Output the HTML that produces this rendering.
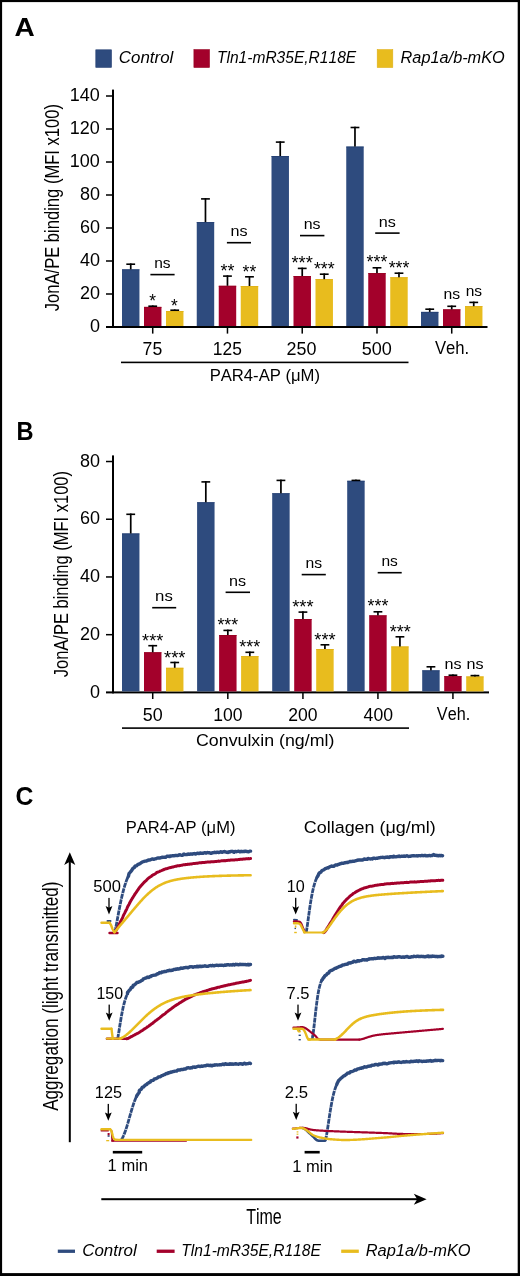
<!DOCTYPE html>
<html><head><meta charset="utf-8"><style>
html,body{margin:0;padding:0;background:#fff;}
svg{display:block;will-change:transform;}
text{font-family:"Liberation Sans",sans-serif;fill:#000;font-kerning:none;}
</style></head><body>
<svg width="520" height="1276" viewBox="0 0 520 1276">
<rect x="0.00" y="0.00" width="520.00" height="2.10" fill="#000"/>
<rect x="0.00" y="0.00" width="2.10" height="1276.00" fill="#000"/>
<rect x="517.70" y="0.00" width="2.30" height="1276.00" fill="#000"/>
<rect x="0.00" y="1273.10" width="520.00" height="2.90" fill="#000"/>
<text x="14.50" y="36.20" font-size="26.7" textLength="20.24" lengthAdjust="spacingAndGlyphs" font-weight="bold">A</text>
<text x="16.52" y="439.50" font-size="26.7" textLength="17.05" lengthAdjust="spacingAndGlyphs" font-weight="bold">B</text>
<text x="15.58" y="804.80" font-size="26.7" textLength="17.89" lengthAdjust="spacingAndGlyphs" font-weight="bold">C</text>
<rect x="95.80" y="49.80" width="15.70" height="17.60" fill="#2e4b7e" stroke="#243f72" stroke-width="0.6"/>
<rect x="193.90" y="49.60" width="15.60" height="17.90" fill="#a3012b" stroke="#960021" stroke-width="0.6"/>
<rect x="377.20" y="49.60" width="15.60" height="17.90" fill="#e8bc1e" stroke="#dfb016" stroke-width="0.6"/>
<text x="118.82" y="62.90" font-size="16.7" textLength="54.55" lengthAdjust="spacingAndGlyphs" font-style="italic">Control</text>
<text x="217.00" y="62.90" font-size="16.7" textLength="139.15" lengthAdjust="spacingAndGlyphs" font-style="italic">Tln1-mR35E,R118E</text>
<text x="400.60" y="63.10" font-size="16.7" textLength="104.15" lengthAdjust="spacingAndGlyphs" font-style="italic">Rap1a/b-mKO</text>
<rect x="112.00" y="89.60" width="2.00" height="238.40" fill="#000"/>
<rect x="106.00" y="326.00" width="381.50" height="2.00" fill="#000"/>
<text x="89.89" y="332.10" font-size="18" textLength="10.01" lengthAdjust="spacingAndGlyphs">0</text>
<rect x="106.00" y="293.25" width="6.00" height="1.50" fill="#000"/>
<text x="79.88" y="299.10" font-size="18" textLength="20.02" lengthAdjust="spacingAndGlyphs">20</text>
<rect x="106.00" y="260.25" width="6.00" height="1.50" fill="#000"/>
<text x="79.88" y="266.10" font-size="18" textLength="20.02" lengthAdjust="spacingAndGlyphs">40</text>
<rect x="106.00" y="227.25" width="6.00" height="1.50" fill="#000"/>
<text x="79.88" y="233.10" font-size="18" textLength="20.02" lengthAdjust="spacingAndGlyphs">60</text>
<rect x="106.00" y="194.25" width="6.00" height="1.50" fill="#000"/>
<text x="79.88" y="200.10" font-size="18" textLength="20.02" lengthAdjust="spacingAndGlyphs">80</text>
<rect x="106.00" y="161.25" width="6.00" height="1.50" fill="#000"/>
<text x="69.87" y="167.10" font-size="18" textLength="30.03" lengthAdjust="spacingAndGlyphs">100</text>
<rect x="106.00" y="128.25" width="6.00" height="1.50" fill="#000"/>
<text x="69.87" y="134.10" font-size="18" textLength="30.03" lengthAdjust="spacingAndGlyphs">120</text>
<rect x="106.00" y="95.25" width="6.00" height="1.50" fill="#000"/>
<text x="69.87" y="101.10" font-size="18" textLength="30.03" lengthAdjust="spacingAndGlyphs">140</text>
<rect x="122.00" y="269.40" width="17.45" height="56.60" fill="#2e4b7e"/>
<rect x="122.00" y="269.40" width="17.45" height="0.80" fill="#243f72"/>
<rect x="129.88" y="263.40" width="1.70" height="6.00" fill="#000"/>
<rect x="126.32" y="263.40" width="8.80" height="1.60" fill="#000"/>
<rect x="144.00" y="306.90" width="17.45" height="19.10" fill="#a3012b"/>
<rect x="144.00" y="306.90" width="17.45" height="0.80" fill="#960021"/>
<rect x="151.88" y="305.40" width="1.70" height="1.50" fill="#000"/>
<rect x="148.32" y="305.40" width="8.80" height="1.60" fill="#000"/>
<rect x="166.00" y="311.00" width="17.45" height="15.00" fill="#e8bc1e"/>
<rect x="166.00" y="311.00" width="17.45" height="0.80" fill="#dfb016"/>
<rect x="173.88" y="309.40" width="1.70" height="1.60" fill="#000"/>
<rect x="170.32" y="309.40" width="8.80" height="1.60" fill="#000"/>
<rect x="151.97" y="327.00" width="1.50" height="6.60" fill="#000"/>
<rect x="196.75" y="222.10" width="17.45" height="103.90" fill="#2e4b7e"/>
<rect x="196.75" y="222.10" width="17.45" height="0.80" fill="#243f72"/>
<rect x="204.62" y="198.10" width="1.70" height="24.00" fill="#000"/>
<rect x="201.07" y="198.10" width="8.80" height="1.60" fill="#000"/>
<rect x="218.75" y="285.80" width="17.45" height="40.20" fill="#a3012b"/>
<rect x="218.75" y="285.80" width="17.45" height="0.80" fill="#960021"/>
<rect x="226.62" y="275.30" width="1.70" height="10.50" fill="#000"/>
<rect x="223.07" y="275.30" width="8.80" height="1.60" fill="#000"/>
<rect x="240.75" y="286.00" width="17.45" height="40.00" fill="#e8bc1e"/>
<rect x="240.75" y="286.00" width="17.45" height="0.80" fill="#dfb016"/>
<rect x="248.62" y="276.00" width="1.70" height="10.00" fill="#000"/>
<rect x="245.07" y="276.00" width="8.80" height="1.60" fill="#000"/>
<rect x="226.72" y="327.00" width="1.50" height="6.60" fill="#000"/>
<rect x="271.50" y="156.00" width="17.45" height="170.00" fill="#2e4b7e"/>
<rect x="271.50" y="156.00" width="17.45" height="0.80" fill="#243f72"/>
<rect x="279.38" y="141.30" width="1.70" height="14.70" fill="#000"/>
<rect x="275.83" y="141.30" width="8.80" height="1.60" fill="#000"/>
<rect x="293.50" y="276.00" width="17.45" height="50.00" fill="#a3012b"/>
<rect x="293.50" y="276.00" width="17.45" height="0.80" fill="#960021"/>
<rect x="301.38" y="267.60" width="1.70" height="8.40" fill="#000"/>
<rect x="297.83" y="267.60" width="8.80" height="1.60" fill="#000"/>
<rect x="315.50" y="279.20" width="17.45" height="46.80" fill="#e8bc1e"/>
<rect x="315.50" y="279.20" width="17.45" height="0.80" fill="#dfb016"/>
<rect x="323.38" y="273.40" width="1.70" height="5.80" fill="#000"/>
<rect x="319.83" y="273.40" width="8.80" height="1.60" fill="#000"/>
<rect x="301.48" y="327.00" width="1.50" height="6.60" fill="#000"/>
<rect x="346.25" y="146.60" width="17.45" height="179.40" fill="#2e4b7e"/>
<rect x="346.25" y="146.60" width="17.45" height="0.80" fill="#243f72"/>
<rect x="354.12" y="126.70" width="1.70" height="19.90" fill="#000"/>
<rect x="350.58" y="126.70" width="8.80" height="1.60" fill="#000"/>
<rect x="368.25" y="273.10" width="17.45" height="52.90" fill="#a3012b"/>
<rect x="368.25" y="273.10" width="17.45" height="0.80" fill="#960021"/>
<rect x="376.12" y="267.00" width="1.70" height="6.10" fill="#000"/>
<rect x="372.58" y="267.00" width="8.80" height="1.60" fill="#000"/>
<rect x="390.25" y="277.30" width="17.45" height="48.70" fill="#e8bc1e"/>
<rect x="390.25" y="277.30" width="17.45" height="0.80" fill="#dfb016"/>
<rect x="398.12" y="272.40" width="1.70" height="4.90" fill="#000"/>
<rect x="394.58" y="272.40" width="8.80" height="1.60" fill="#000"/>
<rect x="376.23" y="327.00" width="1.50" height="6.60" fill="#000"/>
<rect x="421.00" y="311.90" width="17.45" height="14.10" fill="#2e4b7e"/>
<rect x="421.00" y="311.90" width="17.45" height="0.80" fill="#243f72"/>
<rect x="428.88" y="308.40" width="1.70" height="3.50" fill="#000"/>
<rect x="425.33" y="308.40" width="8.80" height="1.60" fill="#000"/>
<rect x="443.00" y="309.40" width="17.45" height="16.60" fill="#a3012b"/>
<rect x="443.00" y="309.40" width="17.45" height="0.80" fill="#960021"/>
<rect x="450.88" y="305.50" width="1.70" height="3.90" fill="#000"/>
<rect x="447.33" y="305.50" width="8.80" height="1.60" fill="#000"/>
<rect x="465.00" y="306.20" width="17.45" height="19.80" fill="#e8bc1e"/>
<rect x="465.00" y="306.20" width="17.45" height="0.80" fill="#dfb016"/>
<rect x="472.88" y="301.60" width="1.70" height="4.60" fill="#000"/>
<rect x="469.33" y="301.60" width="8.80" height="1.60" fill="#000"/>
<rect x="450.98" y="327.00" width="1.50" height="6.60" fill="#000"/>
<text x="154.17" y="268.30" font-size="15.3" textLength="16.39" lengthAdjust="spacingAndGlyphs">ns</text>
<rect x="150.40" y="273.80" width="24.20" height="1.60" fill="#000"/>
<text x="230.43" y="236.00" font-size="15.3" textLength="17.06" lengthAdjust="spacingAndGlyphs">ns</text>
<rect x="226.90" y="241.90" width="24.10" height="1.60" fill="#000"/>
<text x="303.74" y="229.20" font-size="15.3" textLength="16.83" lengthAdjust="spacingAndGlyphs">ns</text>
<rect x="300.00" y="234.80" width="24.40" height="1.60" fill="#000"/>
<text x="378.73" y="226.50" font-size="15.3" textLength="17.06" lengthAdjust="spacingAndGlyphs">ns</text>
<rect x="375.20" y="232.30" width="24.40" height="1.60" fill="#000"/>
<text x="149.32" y="307.04" font-size="17.5" textLength="6.75" lengthAdjust="spacingAndGlyphs">*</text>
<text x="171.02" y="311.64" font-size="17.5" textLength="6.75" lengthAdjust="spacingAndGlyphs">*</text>
<text x="220.51" y="276.64" font-size="17.5" textLength="13.97" lengthAdjust="spacingAndGlyphs">**</text>
<text x="242.62" y="278.04" font-size="17.5" textLength="13.66" lengthAdjust="spacingAndGlyphs">**</text>
<text x="291.40" y="269.34" font-size="17.5" textLength="21.38" lengthAdjust="spacingAndGlyphs">***</text>
<text x="313.91" y="274.94" font-size="17.5" textLength="20.76" lengthAdjust="spacingAndGlyphs">***</text>
<text x="366.61" y="268.34" font-size="17.5" textLength="20.76" lengthAdjust="spacingAndGlyphs">***</text>
<text x="388.71" y="274.04" font-size="17.5" textLength="20.76" lengthAdjust="spacingAndGlyphs">***</text>
<text x="443.56" y="299.40" font-size="15.3" textLength="16.61" lengthAdjust="spacingAndGlyphs">ns</text>
<text x="465.67" y="296.20" font-size="15.3" textLength="16.39" lengthAdjust="spacingAndGlyphs">ns</text>
<text x="142.59" y="354.60" font-size="18" textLength="19.65" lengthAdjust="spacingAndGlyphs">75</text>
<text x="212.87" y="354.70" font-size="18" textLength="29.06" lengthAdjust="spacingAndGlyphs">125</text>
<text x="286.50" y="354.60" font-size="18" textLength="29.90" lengthAdjust="spacingAndGlyphs">250</text>
<text x="361.78" y="354.60" font-size="18" textLength="30.13" lengthAdjust="spacingAndGlyphs">500</text>
<text x="434.93" y="354.30" font-size="18" textLength="34.30" lengthAdjust="spacingAndGlyphs">Veh.</text>
<text transform="translate(58.70,311.00) rotate(-90)" x="-0.26" y="0" font-size="20.6" textLength="207.29" lengthAdjust="spacingAndGlyphs">JonA/PE binding (MFI x100)</text>
<rect x="121.00" y="361.60" width="287.50" height="1.60" fill="#000"/>
<text x="209.63" y="380.70" font-size="16.8" textLength="110.40" lengthAdjust="spacingAndGlyphs">PAR4-AP (μM)</text>
<rect x="112.00" y="455.40" width="2.00" height="238.00" fill="#000"/>
<rect x="106.00" y="691.40" width="383.00" height="2.00" fill="#000"/>
<text x="89.89" y="697.50" font-size="18" textLength="10.01" lengthAdjust="spacingAndGlyphs">0</text>
<rect x="106.00" y="633.93" width="6.00" height="1.50" fill="#000"/>
<text x="79.88" y="639.78" font-size="18" textLength="20.02" lengthAdjust="spacingAndGlyphs">20</text>
<rect x="106.00" y="576.21" width="6.00" height="1.50" fill="#000"/>
<text x="79.88" y="582.06" font-size="18" textLength="20.02" lengthAdjust="spacingAndGlyphs">40</text>
<rect x="106.00" y="518.49" width="6.00" height="1.50" fill="#000"/>
<text x="79.88" y="524.34" font-size="18" textLength="20.02" lengthAdjust="spacingAndGlyphs">60</text>
<rect x="106.00" y="460.77" width="6.00" height="1.50" fill="#000"/>
<text x="79.88" y="466.62" font-size="18" textLength="20.02" lengthAdjust="spacingAndGlyphs">80</text>
<rect x="122.00" y="533.50" width="17.45" height="157.90" fill="#2e4b7e"/>
<rect x="122.00" y="533.50" width="17.45" height="0.80" fill="#243f72"/>
<rect x="129.88" y="513.50" width="1.70" height="20.00" fill="#000"/>
<rect x="126.32" y="513.50" width="8.80" height="1.60" fill="#000"/>
<rect x="144.00" y="652.30" width="17.45" height="39.10" fill="#a3012b"/>
<rect x="144.00" y="652.30" width="17.45" height="0.80" fill="#960021"/>
<rect x="151.88" y="644.90" width="1.70" height="7.40" fill="#000"/>
<rect x="148.32" y="644.90" width="8.80" height="1.60" fill="#000"/>
<rect x="166.00" y="667.80" width="17.45" height="23.60" fill="#e8bc1e"/>
<rect x="166.00" y="667.80" width="17.45" height="0.80" fill="#dfb016"/>
<rect x="173.88" y="661.70" width="1.70" height="6.10" fill="#000"/>
<rect x="170.32" y="661.70" width="8.80" height="1.60" fill="#000"/>
<rect x="151.97" y="692.40" width="1.50" height="6.60" fill="#000"/>
<rect x="197.10" y="502.30" width="17.45" height="189.10" fill="#2e4b7e"/>
<rect x="197.10" y="502.30" width="17.45" height="0.80" fill="#243f72"/>
<rect x="204.97" y="481.10" width="1.70" height="21.20" fill="#000"/>
<rect x="201.42" y="481.10" width="8.80" height="1.60" fill="#000"/>
<rect x="219.10" y="635.00" width="17.45" height="56.40" fill="#a3012b"/>
<rect x="219.10" y="635.00" width="17.45" height="0.80" fill="#960021"/>
<rect x="226.97" y="629.60" width="1.70" height="5.40" fill="#000"/>
<rect x="223.42" y="629.60" width="8.80" height="1.60" fill="#000"/>
<rect x="241.10" y="656.20" width="17.45" height="35.20" fill="#e8bc1e"/>
<rect x="241.10" y="656.20" width="17.45" height="0.80" fill="#dfb016"/>
<rect x="248.97" y="651.50" width="1.70" height="4.70" fill="#000"/>
<rect x="245.42" y="651.50" width="8.80" height="1.60" fill="#000"/>
<rect x="227.07" y="692.40" width="1.50" height="6.60" fill="#000"/>
<rect x="272.20" y="493.30" width="17.45" height="198.10" fill="#2e4b7e"/>
<rect x="272.20" y="493.30" width="17.45" height="0.80" fill="#243f72"/>
<rect x="280.07" y="479.60" width="1.70" height="13.70" fill="#000"/>
<rect x="276.53" y="479.60" width="8.80" height="1.60" fill="#000"/>
<rect x="294.20" y="619.00" width="17.45" height="72.40" fill="#a3012b"/>
<rect x="294.20" y="619.00" width="17.45" height="0.80" fill="#960021"/>
<rect x="302.07" y="611.30" width="1.70" height="7.70" fill="#000"/>
<rect x="298.53" y="611.30" width="8.80" height="1.60" fill="#000"/>
<rect x="316.20" y="649.00" width="17.45" height="42.40" fill="#e8bc1e"/>
<rect x="316.20" y="649.00" width="17.45" height="0.80" fill="#dfb016"/>
<rect x="324.07" y="644.00" width="1.70" height="5.00" fill="#000"/>
<rect x="320.53" y="644.00" width="8.80" height="1.60" fill="#000"/>
<rect x="302.18" y="692.40" width="1.50" height="6.60" fill="#000"/>
<rect x="347.20" y="480.80" width="17.45" height="210.60" fill="#2e4b7e"/>
<rect x="347.20" y="480.80" width="17.45" height="0.80" fill="#243f72"/>
<rect x="355.07" y="479.60" width="1.70" height="1.20" fill="#000"/>
<rect x="351.53" y="479.60" width="8.80" height="1.60" fill="#000"/>
<rect x="369.20" y="615.40" width="17.45" height="76.00" fill="#a3012b"/>
<rect x="369.20" y="615.40" width="17.45" height="0.80" fill="#960021"/>
<rect x="377.07" y="611.00" width="1.70" height="4.40" fill="#000"/>
<rect x="373.53" y="611.00" width="8.80" height="1.60" fill="#000"/>
<rect x="391.20" y="646.50" width="17.45" height="44.90" fill="#e8bc1e"/>
<rect x="391.20" y="646.50" width="17.45" height="0.80" fill="#dfb016"/>
<rect x="399.07" y="636.00" width="1.70" height="10.50" fill="#000"/>
<rect x="395.53" y="636.00" width="8.80" height="1.60" fill="#000"/>
<rect x="377.18" y="692.40" width="1.50" height="6.60" fill="#000"/>
<rect x="422.20" y="670.40" width="17.45" height="21.00" fill="#2e4b7e"/>
<rect x="422.20" y="670.40" width="17.45" height="0.80" fill="#243f72"/>
<rect x="430.07" y="666.00" width="1.70" height="4.40" fill="#000"/>
<rect x="426.53" y="666.00" width="8.80" height="1.60" fill="#000"/>
<rect x="444.20" y="676.20" width="17.45" height="15.20" fill="#a3012b"/>
<rect x="444.20" y="676.20" width="17.45" height="0.80" fill="#960021"/>
<rect x="452.07" y="674.40" width="1.70" height="1.80" fill="#000"/>
<rect x="448.53" y="674.40" width="8.80" height="1.60" fill="#000"/>
<rect x="466.20" y="676.50" width="17.45" height="14.90" fill="#e8bc1e"/>
<rect x="466.20" y="676.50" width="17.45" height="0.80" fill="#dfb016"/>
<rect x="474.07" y="674.80" width="1.70" height="1.70" fill="#000"/>
<rect x="470.53" y="674.80" width="8.80" height="1.60" fill="#000"/>
<rect x="452.18" y="692.40" width="1.50" height="6.60" fill="#000"/>
<text x="155.09" y="600.90" font-size="15.3" textLength="17.72" lengthAdjust="spacingAndGlyphs">ns</text>
<rect x="152.20" y="606.90" width="24.00" height="1.60" fill="#000"/>
<text x="229.13" y="586.00" font-size="15.3" textLength="17.06" lengthAdjust="spacingAndGlyphs">ns</text>
<rect x="225.60" y="591.50" width="24.40" height="1.60" fill="#000"/>
<text x="305.46" y="567.90" font-size="15.3" textLength="16.61" lengthAdjust="spacingAndGlyphs">ns</text>
<rect x="301.70" y="573.80" width="24.10" height="1.60" fill="#000"/>
<text x="381.47" y="566.00" font-size="15.3" textLength="16.39" lengthAdjust="spacingAndGlyphs">ns</text>
<rect x="377.70" y="571.90" width="24.00" height="1.60" fill="#000"/>
<text x="142.11" y="646.54" font-size="17.5" textLength="21.18" lengthAdjust="spacingAndGlyphs">***</text>
<text x="164.00" y="663.64" font-size="17.5" textLength="21.48" lengthAdjust="spacingAndGlyphs">***</text>
<text x="217.41" y="631.24" font-size="17.5" textLength="20.76" lengthAdjust="spacingAndGlyphs">***</text>
<text x="239.31" y="653.34" font-size="17.5" textLength="20.97" lengthAdjust="spacingAndGlyphs">***</text>
<text x="292.20" y="612.84" font-size="17.5" textLength="21.38" lengthAdjust="spacingAndGlyphs">***</text>
<text x="314.30" y="645.74" font-size="17.5" textLength="21.38" lengthAdjust="spacingAndGlyphs">***</text>
<text x="367.61" y="612.44" font-size="17.5" textLength="20.97" lengthAdjust="spacingAndGlyphs">***</text>
<text x="389.71" y="637.64" font-size="17.5" textLength="20.97" lengthAdjust="spacingAndGlyphs">***</text>
<text x="444.53" y="668.50" font-size="15.3" textLength="17.06" lengthAdjust="spacingAndGlyphs">ns</text>
<text x="466.63" y="668.50" font-size="15.3" textLength="17.06" lengthAdjust="spacingAndGlyphs">ns</text>
<text x="142.78" y="720.50" font-size="18" textLength="19.92" lengthAdjust="spacingAndGlyphs">50</text>
<text x="213.27" y="720.50" font-size="18" textLength="29.22" lengthAdjust="spacingAndGlyphs">100</text>
<text x="288.32" y="720.50" font-size="18" textLength="29.27" lengthAdjust="spacingAndGlyphs">200</text>
<text x="363.60" y="720.50" font-size="18" textLength="29.39" lengthAdjust="spacingAndGlyphs">400</text>
<text x="436.83" y="720.40" font-size="18" textLength="33.35" lengthAdjust="spacingAndGlyphs">Veh.</text>
<text transform="translate(68.00,677.00) rotate(-90)" x="-0.26" y="0" font-size="20.6" textLength="206.28" lengthAdjust="spacingAndGlyphs">JonA/PE binding (MFI x100)</text>
<rect x="122.00" y="727.30" width="287.00" height="1.60" fill="#000"/>
<text x="196.00" y="746.00" font-size="16.8" textLength="138.41" lengthAdjust="spacingAndGlyphs">Convulxin (ng/ml)</text>
<text x="125.84" y="832.90" font-size="17.2" textLength="109.58" lengthAdjust="spacingAndGlyphs">PAR4-AP (μM)</text>
<text x="303.79" y="832.90" font-size="17.2" textLength="131.92" lengthAdjust="spacingAndGlyphs">Collagen (μg/ml)</text>
<rect x="68.80" y="860.00" width="2.00" height="282.20" fill="#000"/>
<path d="M69.8,852.3 L75.3,865 L69.8,861.8 L64.2,865 Z" fill="#000"/>
<text transform="translate(58.10,1110.80) rotate(-90)" x="-0.03" y="0" font-size="21.7" textLength="229.29" lengthAdjust="spacingAndGlyphs">Aggregation (light transmitted)</text>
<rect x="101.30" y="1198.20" width="318.70" height="2.00" fill="#000"/>
<path d="M426.6,1199.2 L413.8,1204.7 L417.2,1199.2 L413.8,1193.7 Z" fill="#000"/>
<text x="246.14" y="1224.20" font-size="21.8" textLength="35.67" lengthAdjust="spacingAndGlyphs">Time</text>
<rect x="57.80" y="1249.60" width="17.20" height="3.30" fill="#2e4b7e"/>
<rect x="156.70" y="1249.60" width="17.90" height="3.30" fill="#a3012b"/>
<rect x="341.20" y="1249.60" width="17.60" height="3.30" fill="#e8bc1e"/>
<text x="82.16" y="1256.20" font-size="16.7" textLength="54.65" lengthAdjust="spacingAndGlyphs" font-style="italic">Control</text>
<text x="181.30" y="1256.20" font-size="16.7" textLength="139.56" lengthAdjust="spacingAndGlyphs" font-style="italic">Tln1-mR35E,R118E</text>
<text x="365.69" y="1256.20" font-size="16.7" textLength="104.96" lengthAdjust="spacingAndGlyphs" font-style="italic">Rap1a/b-mKO</text>
<text x="93.34" y="891.50" font-size="17.2" textLength="27.61" lengthAdjust="spacingAndGlyphs">500</text>
<rect x="108.35" y="897.90" width="1.30" height="10.50" fill="#000"/>
<path d="M109.00,914.40 L105.60,906.10 L109.00,907.80 L112.40,906.10 Z" fill="#000"/>
<text x="96.38" y="998.80" font-size="17.2" textLength="26.64" lengthAdjust="spacingAndGlyphs">150</text>
<rect x="108.55" y="1004.60" width="1.30" height="10.20" fill="#000"/>
<path d="M109.20,1020.80 L105.80,1012.50 L109.20,1014.20 L112.60,1012.50 Z" fill="#000"/>
<text x="94.86" y="1098.00" font-size="17.2" textLength="27.12" lengthAdjust="spacingAndGlyphs">125</text>
<rect x="107.65" y="1103.90" width="1.30" height="10.80" fill="#000"/>
<path d="M108.30,1120.70 L104.90,1112.40 L108.30,1114.10 L111.70,1112.40 Z" fill="#000"/>
<text x="286.87" y="891.70" font-size="17.2" textLength="17.96" lengthAdjust="spacingAndGlyphs">10</text>
<rect x="295.05" y="897.80" width="1.30" height="10.70" fill="#000"/>
<path d="M295.70,914.50 L292.30,906.20 L295.70,907.90 L299.10,906.20 Z" fill="#000"/>
<text x="286.55" y="998.90" font-size="17.2" textLength="22.94" lengthAdjust="spacingAndGlyphs">7.5</text>
<rect x="297.35" y="1004.60" width="1.30" height="10.20" fill="#000"/>
<path d="M298.00,1020.80 L294.60,1012.50 L298.00,1014.20 L301.40,1012.50 Z" fill="#000"/>
<text x="284.86" y="1097.70" font-size="17.2" textLength="23.24" lengthAdjust="spacingAndGlyphs">2.5</text>
<rect x="295.55" y="1103.80" width="1.30" height="10.20" fill="#000"/>
<path d="M296.20,1120.00 L292.80,1111.70 L296.20,1113.40 L299.60,1111.70 Z" fill="#000"/>
<rect x="112.80" y="1150.90" width="29.40" height="2.60" fill="#000"/>
<rect x="304.60" y="1150.90" width="15.10" height="2.60" fill="#000"/>
<text x="107.64" y="1171.40" font-size="16.4" textLength="40.43" lengthAdjust="spacingAndGlyphs">1 min</text>
<text x="292.24" y="1171.50" font-size="16.4" textLength="40.33" lengthAdjust="spacingAndGlyphs">1 min</text>
<path d="M107.50,921.00 L110.50,921.00" fill="none" stroke="#2e4b7e" stroke-width="2.0" stroke-linejoin="round" stroke-linecap="round"/>
<path d="M114.60,932.20 L115.10,930.63 L115.60,928.46 L116.10,926.01 L116.60,923.42 L117.10,920.74 L117.60,918.03 L118.10,915.32 L118.60,912.63 L119.10,909.98 L119.60,907.39 L120.10,904.87 L120.60,902.43 L121.10,900.08 L121.60,897.81 L122.10,895.64 L122.60,893.57 L123.10,891.59 L123.60,889.70 L124.10,887.91 L124.60,886.22 L125.10,884.61 L125.60,883.09 L126.10,881.65 L126.60,880.30 L127.10,879.03 L127.60,877.83 L128.10,876.70" fill="none" stroke="#2e4b7e" stroke-width="2.8" stroke-dasharray="5 0.7" stroke-linejoin="round"/>
<path d="M128.10,876.70 L128.66,875.67 L128.75,874.47 L129.09,873.43 L129.84,872.69 L130.50,871.96 L131.01,871.19 L131.64,870.56 L132.11,869.86 L132.40,869.05 L132.85,868.41 L133.52,867.99 L134.20,867.65 L134.63,867.09 L134.89,866.36 L135.42,865.94 L136.22,865.90 L136.83,865.68 L137.15,865.08 L137.58,864.64 L138.16,864.45 L138.66,864.14 L139.23,863.99 L139.81,863.87 L140.23,863.48 L140.67,863.11 L141.14,862.82 L141.57,862.45 L142.04,862.16 L142.54,861.96 L143.05,861.77 L143.55,861.59 L144.06,861.42 L144.57,861.28 L145.10,861.18 L145.62,861.08 L146.16,861.08 L146.64,860.88 L147.09,860.54 L147.62,860.52 L148.09,860.26 L148.53,859.89 L149.06,859.89 L149.63,860.02 L150.13,859.90 L150.58,859.58 L151.09,859.50 L151.57,859.31 L152.00,858.88 L152.53,858.87 L153.12,859.16 L153.66,859.29 L154.17,859.22 L154.65,859.03 L155.13,858.82 L155.64,858.76 L156.13,858.64 L156.59,858.32 L157.09,858.21 L157.58,858.10 L158.07,857.95 L158.60,858.03 L159.09,857.88 L159.62,857.95 L160.16,858.08 L160.60,857.65 L161.09,857.54 L161.62,857.63 L162.08,857.30 L162.58,857.18 L163.12,857.34 L163.63,857.36 L164.13,857.28 L164.64,857.27 L165.16,857.33 L165.66,857.24 L166.12,856.92 L166.58,856.55 L167.04,856.23 L167.55,856.17 L168.07,856.25 L168.57,856.21 L169.12,856.52 L169.65,856.62 L170.09,856.11 L170.56,855.85 L171.09,855.99 L171.60,856.04 L172.09,855.84 L172.58,855.71 L173.08,855.67 L173.60,855.78 L174.12,855.82 L174.59,855.57 L175.09,855.51 L175.62,855.65 L176.11,855.52 L176.59,855.34 L177.12,855.47 L177.63,855.56 L178.13,855.44 L178.59,855.10 L179.06,854.73 L179.58,854.85 L180.11,855.10 L180.61,855.03 L181.12,855.07 L181.66,855.42 L182.16,855.41 L182.64,855.15 L183.12,854.88 L183.56,854.24 L184.05,854.08 L184.59,854.49 L185.11,854.59 L185.61,854.59 L186.11,854.56 L186.61,854.46 L187.11,854.46 L187.60,854.22 L188.08,853.96 L188.59,854.09 L189.12,854.38 L189.62,854.37 L190.10,854.01 L190.59,853.86 L191.09,853.88 L191.61,854.03 L192.13,854.25 L192.62,854.05 L193.10,853.77 L193.60,853.83 L194.11,853.80 L194.59,853.55 L195.10,853.66 L195.63,853.99 L196.12,853.91 L196.60,853.58 L197.09,853.40 L197.58,853.24 L198.08,853.21 L198.60,853.48 L199.11,853.55 L199.60,853.27 L200.08,852.99 L200.59,853.05 L201.10,853.30 L201.60,853.26 L202.10,853.16 L202.61,853.29 L203.11,853.29 L203.59,852.99 L204.08,852.79 L204.58,852.68 L205.09,852.76 L205.61,853.06 L206.11,853.15 L206.60,852.91 L207.08,852.58 L207.58,852.52 L208.09,852.67 L208.60,852.72 L209.10,852.68 L209.60,852.68 L210.11,852.96 L210.63,853.27 L211.13,853.32 L211.62,853.13 L212.11,852.88 L212.61,852.75 L213.11,852.68 L213.61,852.65 L214.10,852.49 L214.59,852.30 L215.10,852.37 L215.60,852.55 L216.11,852.57 L216.60,852.36 L217.09,852.19 L217.59,852.13 L218.09,852.21 L218.61,852.46 L219.11,852.44 L219.60,852.29 L220.09,852.09 L220.58,851.77 L221.08,851.78 L221.60,852.20 L222.11,852.36 L222.59,852.01 L223.09,851.88 L223.59,851.87 L224.08,851.59 L224.58,851.53 L225.09,851.80 L225.60,851.95 L226.10,852.10 L226.61,852.26 L227.11,852.15 L227.61,852.19 L228.12,852.48 L228.61,852.28 L229.09,851.74 L229.60,851.79 L230.10,851.95 L230.59,851.62 L231.09,851.40 L231.58,851.35 L232.08,851.31 L232.59,851.46 L233.10,851.84 L233.61,852.20 L234.11,852.20 L234.60,851.71 L235.09,851.34 L235.59,851.48 L236.10,851.67 L236.60,851.72 L237.10,851.51 L237.59,851.34 L238.09,851.35 L238.59,851.20 L239.09,851.31 L239.60,851.64 L240.11,851.86 L240.60,851.70 L241.09,851.29 L241.60,851.46 L242.10,851.69 L242.60,851.61 L243.10,851.51 L243.60,851.42 L244.10,851.58 L244.60,851.57 L245.10,851.27 L245.59,851.22 L246.10,851.29 L246.60,851.40 L247.10,851.60 L247.61,851.70 L248.11,851.81 L248.61,851.78 L249.10,851.50 L249.60,851.26 L250.09,851.08 L250.59,851.11" fill="none" stroke="#2e4b7e" stroke-width="3.4" stroke-linejoin="round" stroke-linecap="round"/>
<path d="M117.50,1038.80 L118.00,1036.75 L118.50,1033.97 L119.00,1030.92 L119.50,1027.76 L120.00,1024.59 L120.50,1021.49 L121.00,1018.50 L121.50,1015.64 L122.00,1012.95 L122.50,1010.42 L123.00,1008.06 L123.50,1005.88 L124.00,1003.86 L124.50,1002.01 L125.00,1000.30 L125.50,998.75 L126.00,997.32 L126.50,996.02 L127.00,994.83 L127.50,993.74" fill="none" stroke="#2e4b7e" stroke-width="2.8" stroke-dasharray="5 0.7" stroke-linejoin="round"/>
<path d="M127.50,993.74 L127.52,992.50 L128.25,991.69 L128.86,990.91 L129.39,990.15 L130.11,989.59 L130.71,989.01 L130.86,988.12 L131.30,987.49 L132.23,987.35 L132.84,986.97 L132.92,986.07 L133.20,985.35 L133.82,985.06 L134.47,984.83 L135.00,984.46 L135.40,983.95 L135.89,983.57 L136.36,983.17 L136.72,982.61 L137.26,982.34 L137.99,982.37 L138.54,982.14 L139.03,981.81 L139.67,981.76 L140.20,981.52 L140.62,981.12 L141.10,980.80 L141.60,980.53 L142.13,980.32 L142.62,980.04 L142.95,979.46 L143.31,978.92 L143.85,978.76 L144.37,978.53 L144.88,978.33 L145.42,978.17 L145.91,977.90 L146.47,977.80 L146.93,977.49 L147.34,977.06 L147.97,977.15 L148.71,977.49 L149.19,977.25 L149.57,976.76 L150.14,976.71 L150.64,976.53 L150.99,975.95 L151.48,975.73 L152.07,975.78 L152.55,975.53 L153.04,975.34 L153.62,975.36 L154.12,975.19 L154.65,975.11 L155.20,975.09 L155.70,974.92 L156.19,974.76 L156.60,974.31 L157.00,973.86 L157.53,973.78 L158.08,973.77 L158.58,973.62 L159.00,973.21 L159.39,972.71 L159.89,972.54 L160.47,972.69 L161.07,972.90 L161.53,972.62 L161.90,972.01 L162.42,971.91 L162.97,971.97 L163.49,971.91 L163.98,971.77 L164.43,971.42 L164.94,971.33 L165.53,971.60 L166.05,971.54 L166.49,971.19 L166.97,970.96 L167.43,970.69 L167.93,970.58 L168.48,970.68 L168.96,970.46 L169.42,970.18 L169.98,970.36 L170.56,970.64 L171.06,970.50 L171.52,970.22 L172.02,970.15 L172.55,970.18 L173.02,969.93 L173.46,969.52 L173.95,969.39 L174.47,969.41 L174.99,969.43 L175.46,969.17 L175.95,968.98 L176.51,969.25 L177.00,969.10 L177.46,968.81 L178.01,969.01 L178.53,969.05 L179.02,968.89 L179.51,968.77 L180.00,968.61 L180.46,968.29 L180.93,968.02 L181.46,968.12 L181.99,968.30 L182.51,968.34 L183.01,968.31 L183.47,967.93 L183.95,967.65 L184.48,967.82 L184.97,967.68 L185.45,967.46 L185.95,967.44 L186.46,967.44 L186.98,967.50 L187.50,967.64 L188.03,967.81 L188.51,967.56 L188.97,967.21 L189.45,966.95 L189.93,966.71 L190.45,966.78 L190.97,966.92 L191.46,966.77 L191.95,966.61 L192.49,966.95 L193.02,967.21 L193.50,966.98 L194.00,966.88 L194.50,966.84 L194.98,966.63 L195.49,966.68 L196.01,966.88 L196.50,966.67 L196.96,966.21 L197.48,966.32 L198.03,966.86 L198.51,966.66 L198.98,966.19 L199.49,966.35 L200.01,966.54 L200.49,966.24 L200.98,966.11 L201.52,966.50 L202.02,966.51 L202.51,966.28 L203.01,966.25 L203.50,966.11 L204.00,966.08 L204.50,966.00 L204.99,965.81 L205.50,966.03 L206.02,966.21 L206.52,966.21 L207.03,966.31 L207.53,966.41 L208.03,966.37 L208.52,966.09 L209.00,965.85 L209.50,965.79 L209.99,965.59 L210.49,965.49 L211.00,965.69 L211.51,965.87 L212.00,965.67 L212.49,965.33 L213.00,965.53 L213.51,965.74 L214.01,965.75 L214.51,965.70 L215.00,965.46 L215.50,965.37 L216.00,965.37 L216.49,965.25 L216.99,965.15 L217.50,965.28 L218.01,965.45 L218.51,965.43 L219.00,965.28 L219.50,965.30 L220.01,965.41 L220.50,965.24 L221.00,965.19 L221.50,965.28 L222.00,965.25 L222.51,965.29 L223.01,965.41 L223.52,965.52 L224.01,965.40 L224.50,965.12 L225.00,964.97 L225.50,965.14 L226.01,965.30 L226.50,965.08 L226.99,964.77 L227.49,964.73 L228.00,964.84 L228.50,964.76 L229.00,964.82 L229.51,965.12 L230.01,965.06 L230.50,964.83 L231.00,964.76 L231.50,964.97 L232.01,965.10 L232.50,964.75 L232.99,964.48 L233.49,964.46 L234.00,964.70 L234.51,964.94 L235.00,964.71 L235.49,964.38 L235.99,964.26 L236.49,964.46 L237.00,964.64 L237.50,964.55 L238.00,964.61 L238.50,964.82 L239.00,964.81 L239.50,964.58 L239.99,964.29 L240.50,964.39 L241.00,964.62 L241.50,964.50 L242.00,964.53 L242.50,964.51 L243.00,964.47 L243.50,964.57 L244.00,964.60 L244.50,964.60 L245.00,964.48 L245.50,964.63 L246.00,964.71 L246.50,964.63 L247.01,964.89 L247.50,964.63 L248.00,964.24 L248.50,964.70 L249.01,964.94 L249.50,964.56 L250.00,964.40 L250.50,964.47" fill="none" stroke="#2e4b7e" stroke-width="3.4" stroke-linejoin="round" stroke-linecap="round"/>
<rect x="107.60" y="1135.20" width="2.00" height="1.60" fill="#2e4b7e"/>
<path d="M121.50,1139.60 L122.00,1138.74 L122.50,1137.82 L123.00,1136.83 L123.50,1135.76 L124.00,1134.61 L124.50,1133.38 L125.00,1132.07 L125.50,1130.67 L126.00,1129.20 L126.50,1127.66 L127.00,1126.05 L127.50,1124.39 L128.00,1122.68 L128.50,1120.94 L129.00,1119.18 L129.50,1117.41 L130.00,1115.63 L130.50,1113.87 L131.00,1112.12 L131.50,1110.41 L132.00,1108.74 L132.50,1107.12 L133.00,1105.55 L133.50,1104.05 L134.00,1102.61 L134.50,1101.24 L135.00,1099.94 L135.50,1098.71 L136.00,1097.56 L136.50,1096.47" fill="none" stroke="#2e4b7e" stroke-width="2.8" stroke-dasharray="5 0.7" stroke-linejoin="round"/>
<path d="M136.50,1096.47 L136.95,1095.43 L137.64,1094.58 L138.09,1093.66 L138.84,1092.99 L139.31,1092.20 L139.22,1091.07 L139.50,1090.21 L140.30,1089.79 L141.08,1089.41 L141.54,1088.81 L141.82,1088.06 L142.23,1087.45 L142.94,1087.18 L143.62,1086.90 L143.95,1086.27 L144.43,1085.81 L145.07,1085.57 L145.47,1085.03 L145.95,1084.62 L146.64,1084.49 L147.09,1084.05 L147.42,1083.46 L147.98,1083.18 L148.57,1082.97 L149.03,1082.58 L149.56,1082.30 L150.17,1082.14 L150.56,1081.65 L150.84,1080.98 L151.34,1080.67 L151.95,1080.55 L152.54,1080.40 L153.15,1080.29 L153.64,1079.99 L153.97,1079.41 L154.39,1078.98 L154.95,1078.81 L155.54,1078.73 L156.16,1078.68 L156.62,1078.36 L157.08,1078.01 L157.57,1077.76 L157.98,1077.33 L158.44,1077.01 L159.01,1076.90 L159.61,1076.89 L160.18,1076.81 L160.66,1076.55 L161.09,1076.18 L161.54,1075.84 L162.02,1075.58 L162.55,1075.44 L163.06,1075.27 L163.50,1074.92 L163.99,1074.68 L164.55,1074.64 L165.05,1074.44 L165.48,1074.06 L165.94,1073.77 L166.40,1073.47 L166.93,1073.36 L167.55,1073.54 L168.02,1073.29 L168.39,1072.73 L168.91,1072.62 L169.49,1072.68 L169.95,1072.40 L170.46,1072.26 L171.04,1072.33 L171.50,1072.08 L171.99,1071.87 L172.51,1071.79 L172.98,1071.55 L173.49,1071.44 L174.03,1071.45 L174.53,1071.29 L175.01,1071.10 L175.55,1071.10 L176.10,1071.14 L176.61,1071.06 L177.05,1070.70 L177.47,1070.27 L177.94,1070.01 L178.44,1069.88 L178.98,1069.91 L179.52,1069.99 L180.04,1069.97 L180.51,1069.70 L180.99,1069.51 L181.52,1069.53 L182.01,1069.39 L182.53,1069.39 L183.09,1069.57 L183.57,1069.35 L184.00,1068.89 L184.51,1068.86 L185.07,1069.07 L185.57,1069.01 L186.06,1068.82 L186.50,1068.45 L186.93,1067.98 L187.43,1067.84 L187.93,1067.79 L188.45,1067.77 L188.98,1067.89 L189.53,1068.07 L190.06,1068.17 L190.55,1068.03 L191.01,1067.75 L191.51,1067.65 L192.04,1067.74 L192.50,1067.42 L192.95,1067.00 L193.48,1067.12 L194.00,1067.18 L194.48,1067.00 L195.01,1067.14 L195.54,1067.27 L196.01,1067.00 L196.49,1066.80 L196.98,1066.66 L197.47,1066.46 L197.96,1066.35 L198.46,1066.30 L198.97,1066.27 L199.49,1066.36 L200.01,1066.49 L200.52,1066.49 L201.00,1066.31 L201.48,1066.05 L201.99,1066.09 L202.52,1066.29 L203.01,1066.19 L203.49,1065.94 L203.99,1065.88 L204.49,1065.88 L204.99,1065.75 L205.49,1065.73 L205.99,1065.70 L206.46,1065.34 L206.95,1065.12 L207.47,1065.36 L207.98,1065.35 L208.47,1065.23 L209.00,1065.53 L209.52,1065.65 L210.00,1065.44 L210.49,1065.24 L211.01,1065.40 L211.54,1065.82 L212.05,1065.86 L212.52,1065.48 L213.00,1065.16 L213.50,1065.21 L214.01,1065.27 L214.49,1064.95 L214.98,1064.74 L215.50,1064.95 L216.00,1065.00 L216.49,1064.82 L217.00,1064.88 L217.51,1064.97 L218.00,1064.86 L218.50,1064.85 L219.01,1064.97 L219.50,1064.78 L219.99,1064.61 L220.51,1064.87 L221.01,1064.91 L221.50,1064.67 L221.99,1064.49 L222.48,1064.18 L222.97,1063.94 L223.49,1064.24 L224.01,1064.61 L224.50,1064.54 L224.98,1064.08 L225.47,1063.71 L225.97,1063.85 L226.50,1064.27 L227.00,1064.36 L227.49,1064.08 L227.99,1064.15 L228.51,1064.41 L229.01,1064.38 L229.49,1063.95 L229.98,1063.65 L230.49,1064.00 L231.00,1064.26 L231.50,1064.13 L231.99,1063.90 L232.50,1064.02 L233.01,1064.29 L233.50,1064.16 L234.00,1063.93 L234.50,1063.98 L235.00,1063.99 L235.49,1063.70 L235.99,1063.72 L236.50,1063.96 L237.00,1064.04 L237.51,1064.11 L238.01,1064.20 L238.51,1064.18 L239.00,1063.94 L239.50,1063.82 L240.00,1063.69 L240.49,1063.62 L241.00,1063.81 L241.50,1063.86 L242.01,1064.05 L242.51,1064.27 L243.01,1064.12 L243.50,1063.81 L243.99,1063.40 L244.49,1063.27 L245.00,1063.57 L245.50,1063.87 L246.01,1063.97 L246.50,1063.84 L247.00,1063.71 L247.50,1063.66 L248.00,1063.64 L248.50,1063.57 L248.99,1063.34 L249.49,1063.12 L249.99,1063.23 L250.50,1063.47" fill="none" stroke="#2e4b7e" stroke-width="3.4" stroke-linejoin="round" stroke-linecap="round"/>
<path d="M294.00,919.80 L297.00,920.00" fill="none" stroke="#2e4b7e" stroke-width="2.0" stroke-linejoin="round" stroke-linecap="round"/>
<rect x="294.50" y="927.80" width="1.50" height="1.30" fill="#2e4b7e"/>
<path d="M306.10,932.50 L306.60,930.27 L307.10,927.12 L307.60,923.61 L308.10,919.94 L308.60,916.23 L309.10,912.58 L309.60,909.03 L310.10,905.64 L310.60,902.41 L311.10,899.38 L311.60,896.54 L312.10,893.91 L312.60,891.47 L313.10,889.23 L313.60,887.17 L314.10,885.30 L314.60,883.58 L315.10,882.03 L315.60,880.62 L316.10,879.34 L316.60,878.18 L317.10,877.13" fill="none" stroke="#2e4b7e" stroke-width="2.8" stroke-dasharray="5 0.7" stroke-linejoin="round"/>
<path d="M317.10,877.13 L317.71,876.25 L318.19,875.38 L318.57,874.54 L318.89,873.70 L319.24,872.92 L319.99,872.54 L320.76,872.27 L321.15,871.69 L321.55,871.13 L321.98,870.64 L322.48,870.25 L323.09,870.06 L323.68,869.87 L324.16,869.55 L324.57,869.10 L325.05,868.79 L325.55,868.53 L326.08,868.36 L326.63,868.25 L327.06,867.85 L327.61,867.78 L328.26,867.94 L328.68,867.56 L329.10,867.16 L329.59,866.95 L330.06,866.69 L330.55,866.49 L331.02,866.23 L331.52,866.04 L332.09,866.11 L332.68,866.24 L333.23,866.25 L333.77,866.24 L334.23,865.95 L334.62,865.45 L335.10,865.22 L335.57,864.99 L336.09,864.89 L336.69,865.11 L337.21,865.07 L337.65,864.73 L338.13,864.50 L338.63,864.39 L339.13,864.26 L339.60,864.01 L340.07,863.78 L340.59,863.71 L341.05,863.45 L341.53,863.21 L342.07,863.28 L342.63,863.40 L343.15,863.39 L343.64,863.24 L344.11,862.97 L344.59,862.76 L345.11,862.75 L345.62,862.72 L346.10,862.51 L346.61,862.45 L347.17,862.63 L347.68,862.57 L348.14,862.31 L348.61,862.05 L349.11,861.93 L349.60,861.82 L350.06,861.48 L350.55,861.35 L351.09,861.46 L351.61,861.47 L352.12,861.46 L352.61,861.31 L353.09,861.09 L353.63,861.22 L354.15,861.28 L354.63,861.05 L355.12,860.90 L355.62,860.84 L356.11,860.70 L356.58,860.43 L357.07,860.26 L357.60,860.37 L358.08,860.21 L358.54,859.87 L359.06,859.93 L359.60,860.10 L360.11,860.08 L360.59,859.91 L361.11,859.98 L361.63,859.99 L362.12,859.88 L362.64,859.98 L363.13,859.81 L363.58,859.38 L364.04,859.00 L364.55,859.01 L365.10,859.30 L365.59,859.21 L366.09,859.15 L366.63,859.37 L367.13,859.34 L367.59,858.97 L368.04,858.49 L368.55,858.47 L369.10,858.84 L369.61,858.85 L370.11,858.87 L370.63,859.00 L371.12,858.77 L371.63,858.82 L372.16,859.05 L372.63,858.75 L373.09,858.29 L373.59,858.27 L374.10,858.35 L374.60,858.23 L375.12,858.42 L375.64,858.57 L376.12,858.35 L376.62,858.24 L377.12,858.27 L377.63,858.30 L378.11,858.07 L378.59,857.82 L379.10,857.87 L379.60,857.81 L380.09,857.63 L380.58,857.49 L381.07,857.33 L381.58,857.42 L382.09,857.46 L382.58,857.28 L383.09,857.39 L383.60,857.45 L384.10,857.47 L384.62,857.70 L385.12,857.59 L385.60,857.30 L386.11,857.36 L386.60,857.30 L387.09,857.02 L387.59,857.05 L388.10,857.16 L388.62,857.38 L389.13,857.48 L389.60,857.09 L390.08,856.76 L390.58,856.73 L391.10,856.94 L391.59,856.82 L392.08,856.60 L392.61,857.06 L393.11,857.03 L393.57,856.27 L394.07,856.24 L394.60,856.69 L395.11,856.89 L395.61,856.90 L396.11,856.85 L396.61,856.72 L397.09,856.50 L397.60,856.48 L398.10,856.46 L398.58,856.21 L399.08,856.05 L399.59,856.35 L400.11,856.62 L400.60,856.41 L401.10,856.30 L401.60,856.28 L402.09,856.20 L402.60,856.34 L403.11,856.42 L403.59,856.11 L404.09,856.02 L404.61,856.37 L405.11,856.38 L405.60,856.18 L406.10,856.07 L406.59,855.85 L407.08,855.74 L407.59,855.95 L408.11,856.22 L408.62,856.45 L409.11,856.41 L409.61,856.21 L410.11,856.27 L410.61,856.23 L411.10,856.00 L411.60,855.85 L412.10,855.81 L412.60,855.84 L413.10,855.82 L413.59,855.71 L414.10,855.71 L414.60,855.81 L415.10,855.89 L415.60,855.92 L416.10,855.81 L416.60,855.79 L417.11,855.95 L417.60,855.88 L418.10,855.72 L418.60,855.74 L419.10,855.67 L419.60,855.64 L420.10,855.67 L420.60,855.72 L421.10,855.63 L421.60,855.49 L422.10,855.53 L422.60,855.51 L423.10,855.73 L423.60,855.68 L424.10,855.37 L424.60,855.46 L425.10,855.41 L425.60,855.40 L426.11,855.77 L426.61,855.91 L427.11,855.87 L427.61,855.89 L428.11,855.66 L428.60,855.57 L429.10,855.63 L429.60,855.52 L430.11,855.65 L430.61,855.76 L431.10,855.59 L431.60,855.51 L432.10,855.54 L432.60,855.42 L433.09,854.91 L433.58,854.53 L434.09,854.75 L434.60,855.11 L435.10,855.35 L435.60,855.37 L436.10,855.41 L436.61,855.60 L437.10,855.50 L437.60,855.43 L438.11,855.73 L438.61,855.75 L439.10,855.40 L439.60,855.35 L440.11,855.64 L440.61,855.70 L441.11,855.50 L441.60,855.48 L442.11,855.73 L442.61,855.69" fill="none" stroke="#2e4b7e" stroke-width="3.4" stroke-linejoin="round" stroke-linecap="round"/>
<rect x="298.60" y="1034.60" width="2.20" height="1.40" fill="#2e4b7e"/>
<rect x="298.60" y="1039.00" width="2.20" height="1.40" fill="#2e4b7e"/>
<rect x="298.20" y="1030.20" width="2.00" height="1.40" fill="#2e4b7e"/>
<path d="M311.90,1039.50 L312.40,1037.87 L312.90,1035.11 L313.40,1031.59 L313.90,1027.54 L314.40,1023.17 L314.90,1018.65 L315.40,1014.14 L315.90,1009.74 L316.40,1005.57 L316.90,1001.67 L317.40,998.11 L317.90,994.89 L318.40,992.02 L318.90,989.48 L319.40,987.27 L319.90,985.36 L320.40,983.70 L320.90,982.27 L321.40,981.04 L321.90,979.98" fill="none" stroke="#2e4b7e" stroke-width="2.8" stroke-dasharray="5 0.7" stroke-linejoin="round"/>
<path d="M321.90,979.98 L322.69,979.23 L323.01,978.32 L323.55,977.65 L324.16,977.12 L324.54,976.45 L324.86,975.76 L325.40,975.31 L326.10,975.09 L326.62,974.69 L326.97,974.10 L327.35,973.56 L327.92,973.27 L328.54,973.07 L328.95,972.58 L329.24,971.93 L329.57,971.34 L330.05,970.96 L330.58,970.68 L331.11,970.40 L331.74,970.29 L332.30,970.09 L332.76,969.73 L333.30,969.50 L333.78,969.18 L334.26,968.85 L334.75,968.56 L335.27,968.32 L335.88,968.28 L336.36,967.97 L336.82,967.65 L337.39,967.53 L337.88,967.29 L338.37,967.04 L338.85,966.75 L339.32,966.47 L339.89,966.39 L340.42,966.26 L340.96,966.13 L341.45,965.90 L341.83,965.40 L342.28,965.09 L342.82,964.99 L343.37,964.93 L343.93,964.91 L344.46,964.82 L344.93,964.56 L345.41,964.33 L345.96,964.31 L346.51,964.30 L347.06,964.28 L347.54,964.07 L347.93,963.58 L348.36,963.18 L348.81,962.87 L349.34,962.82 L349.95,963.06 L350.47,963.00 L350.92,962.68 L351.41,962.52 L351.93,962.45 L352.43,962.34 L352.91,962.13 L353.33,961.67 L353.75,961.21 L354.29,961.25 L354.88,961.53 L355.45,961.72 L355.99,961.79 L356.47,961.58 L356.91,961.24 L357.34,960.78 L357.82,960.59 L358.41,960.93 L358.98,961.16 L359.44,960.89 L359.90,960.59 L360.42,960.60 L360.94,960.60 L361.43,960.46 L361.89,960.17 L362.35,959.82 L362.84,959.67 L363.36,959.75 L363.87,959.69 L364.38,959.70 L364.94,959.99 L365.43,959.89 L365.90,959.63 L366.45,959.87 L366.98,960.04 L367.44,959.70 L367.92,959.49 L368.41,959.35 L368.87,958.97 L369.36,958.80 L369.88,958.94 L370.39,958.92 L370.87,958.72 L371.38,958.74 L371.89,958.74 L372.38,958.62 L372.90,958.73 L373.42,958.83 L373.89,958.48 L374.37,958.28 L374.89,958.41 L375.40,958.44 L375.90,958.46 L376.40,958.42 L376.90,958.34 L377.39,958.13 L377.85,957.71 L378.37,957.83 L378.91,958.24 L379.40,958.14 L379.89,957.95 L380.39,957.86 L380.89,957.84 L381.41,958.05 L381.92,958.17 L382.40,957.84 L382.87,957.38 L383.37,957.41 L383.90,957.79 L384.43,958.16 L384.94,958.42 L385.43,958.18 L385.89,957.58 L386.38,957.34 L386.89,957.37 L387.40,957.58 L387.90,957.55 L388.39,957.31 L388.90,957.55 L389.41,957.66 L389.90,957.39 L390.40,957.43 L390.91,957.64 L391.40,957.39 L391.89,957.11 L392.40,957.33 L392.91,957.58 L393.40,957.31 L393.88,956.78 L394.38,956.71 L394.89,957.00 L395.40,957.18 L395.90,957.08 L396.39,956.99 L396.90,957.22 L397.40,957.13 L397.89,956.72 L398.39,956.70 L398.89,956.77 L399.39,956.71 L399.90,956.88 L400.40,956.99 L400.90,956.97 L401.41,957.22 L401.91,957.30 L402.40,957.03 L402.90,956.90 L403.40,957.01 L403.91,957.28 L404.41,957.28 L404.90,956.92 L405.40,956.80 L405.90,956.92 L406.40,956.76 L406.89,956.46 L407.39,956.46 L407.90,956.87 L408.41,957.30 L408.91,957.34 L409.41,957.23 L409.91,957.21 L410.41,957.25 L410.91,957.05 L411.40,956.70 L411.90,956.77 L412.40,956.92 L412.90,956.88 L413.40,956.55 L413.89,956.21 L414.39,956.30 L414.90,956.48 L415.40,956.63 L415.90,956.59 L416.40,956.50 L416.90,956.36 L417.39,956.16 L417.89,956.22 L418.40,956.40 L418.90,956.58 L419.40,956.44 L419.90,956.40 L420.40,956.65 L420.90,956.51 L421.40,956.30 L421.90,956.39 L422.40,956.49 L422.90,956.44 L423.40,956.44 L423.90,956.65 L424.40,956.83 L424.90,956.91 L425.40,956.66 L425.90,956.45 L426.40,956.56 L426.90,956.53 L427.40,956.21 L427.89,955.85 L428.40,956.09 L428.90,956.71 L429.40,956.63 L429.90,956.23 L430.40,956.36 L430.90,956.66 L431.40,956.60 L431.90,956.16 L432.40,955.99 L432.90,956.24 L433.40,956.25 L433.90,956.13 L434.40,956.29 L434.90,956.47 L435.40,956.44 L435.90,956.56 L436.40,956.54 L436.90,956.42 L437.40,956.64 L437.90,956.77 L438.40,956.55 L438.90,956.44 L439.40,956.43 L439.90,956.35 L440.40,956.54 L440.90,956.59 L441.40,956.06 L441.90,955.93 L442.40,956.23 L442.90,956.25" fill="none" stroke="#2e4b7e" stroke-width="3.4" stroke-linejoin="round" stroke-linecap="round"/>
<path d="M302.50,1128.09 L303.00,1128.18 L303.50,1128.34 L304.00,1128.54 L304.50,1128.78 L305.00,1129.08 L305.50,1129.43 L306.00,1129.84 L306.50,1130.30 L307.00,1130.79 L307.50,1131.29 L308.00,1131.78 L308.50,1132.26 L309.00,1132.73 L309.50,1133.19 L310.00,1133.65 L310.50,1134.12 L311.00,1134.58 L311.50,1135.04 L312.00,1135.50 L312.50,1135.96 L313.00,1136.44 L313.50,1136.94 L314.00,1137.46 L314.50,1138.00 L315.00,1138.54 L315.50,1139.05 L316.00,1139.52 L316.50,1139.92 L317.00,1140.23 L317.50,1140.44 L318.00,1140.58 L318.50,1140.66 L319.00,1140.71 L319.50,1140.74 L320.00,1140.77 L320.50,1140.78 L321.00,1140.79 L321.50,1140.79 L322.00,1140.78 L322.50,1140.77 L323.00,1140.75 L323.50,1140.73 L324.00,1140.70 L324.50,1140.67 L325.00,1140.64 L325.20,1140.62" fill="none" stroke="#2e4b7e" stroke-width="2.6" stroke-linejoin="round" stroke-linecap="round"/>
<path d="M325.20,1140.60 L325.70,1139.14 L326.20,1136.90 L326.70,1134.19 L327.20,1131.17 L327.70,1127.95 L328.20,1124.62 L328.70,1121.24 L329.20,1117.88 L329.70,1114.59 L330.20,1111.39 L330.70,1108.34 L331.20,1105.43 L331.70,1102.69 L332.20,1100.13 L332.70,1097.74 L333.20,1095.54 L333.70,1093.51 L334.20,1091.65 L334.70,1089.96 L335.20,1088.41 L335.70,1087.01 L336.20,1085.74 L336.70,1084.59" fill="none" stroke="#2e4b7e" stroke-width="2.8" stroke-dasharray="5 0.7" stroke-linejoin="round"/>
<path d="M336.70,1084.59 L337.14,1083.51 L337.62,1082.55 L338.09,1081.67 L338.51,1080.83 L339.03,1080.12 L339.69,1079.59 L340.25,1079.05 L340.71,1078.46 L341.26,1078.02 L341.84,1077.64 L342.30,1077.16 L342.80,1076.76 L343.31,1076.39 L343.75,1075.95 L344.33,1075.73 L344.92,1075.53 L345.32,1075.08 L345.75,1074.65 L346.30,1074.45 L346.74,1074.07 L347.10,1073.54 L347.56,1073.19 L348.09,1072.97 L348.74,1073.02 L349.38,1073.07 L349.80,1072.66 L350.12,1072.03 L350.57,1071.70 L351.14,1071.62 L351.71,1071.57 L352.24,1071.42 L352.75,1071.23 L353.26,1071.04 L353.75,1070.81 L354.21,1070.52 L354.62,1070.09 L355.12,1069.89 L355.72,1069.97 L356.28,1069.96 L356.74,1069.67 L357.12,1069.16 L357.59,1068.89 L358.16,1068.92 L358.69,1068.83 L359.18,1068.64 L359.65,1068.40 L360.14,1068.20 L360.72,1068.32 L361.25,1068.26 L361.66,1067.80 L362.17,1067.68 L362.78,1067.92 L363.27,1067.78 L363.67,1067.28 L364.10,1066.88 L364.61,1066.77 L365.19,1066.94 L365.73,1066.96 L366.26,1066.99 L366.81,1067.05 L367.24,1066.68 L367.70,1066.37 L368.21,1066.29 L368.72,1066.25 L369.24,1066.23 L369.72,1066.03 L370.25,1066.06 L370.79,1066.13 L371.20,1065.62 L371.65,1065.25 L372.17,1065.28 L372.67,1065.17 L373.17,1065.08 L373.71,1065.21 L374.21,1065.09 L374.66,1064.73 L375.13,1064.48 L375.64,1064.45 L376.18,1064.58 L376.69,1064.57 L377.23,1064.74 L377.79,1065.01 L378.28,1064.87 L378.70,1064.32 L379.18,1064.06 L379.72,1064.29 L380.23,1064.27 L380.71,1064.08 L381.19,1063.90 L381.71,1063.94 L382.22,1063.94 L382.66,1063.45 L383.14,1063.24 L383.69,1063.54 L384.19,1063.48 L384.67,1063.22 L385.20,1063.39 L385.71,1063.49 L386.24,1063.68 L386.77,1063.90 L387.25,1063.68 L387.74,1063.56 L388.24,1063.45 L388.71,1063.14 L389.20,1062.98 L389.70,1062.95 L390.20,1062.90 L390.69,1062.76 L391.18,1062.61 L391.69,1062.66 L392.20,1062.67 L392.68,1062.49 L393.20,1062.65 L393.71,1062.73 L394.17,1062.23 L394.67,1062.08 L395.19,1062.34 L395.69,1062.26 L396.19,1062.22 L396.71,1062.43 L397.20,1062.37 L397.69,1062.13 L398.18,1061.95 L398.67,1061.81 L399.18,1061.89 L399.70,1062.11 L400.21,1062.26 L400.72,1062.41 L401.23,1062.44 L401.72,1062.26 L402.21,1062.19 L402.70,1062.00 L403.19,1061.78 L403.70,1061.89 L404.21,1062.03 L404.71,1062.05 L405.21,1061.98 L405.70,1061.77 L406.19,1061.56 L406.69,1061.61 L407.20,1061.79 L407.71,1061.92 L408.21,1061.92 L408.71,1061.85 L409.21,1061.91 L409.72,1061.95 L410.21,1061.69 L410.69,1061.31 L411.19,1061.18 L411.70,1061.42 L412.20,1061.57 L412.71,1061.59 L413.21,1061.61 L413.70,1061.35 L414.19,1061.23 L414.69,1061.21 L415.19,1061.21 L415.70,1061.34 L416.19,1061.15 L416.68,1060.81 L417.19,1060.89 L417.70,1061.39 L418.21,1061.49 L418.69,1061.01 L419.19,1060.78 L419.69,1060.96 L420.20,1061.08 L420.70,1061.11 L421.20,1061.09 L421.70,1061.18 L422.21,1061.47 L422.71,1061.49 L423.20,1061.30 L423.70,1061.20 L424.21,1061.39 L424.71,1061.42 L425.20,1061.09 L425.70,1061.09 L426.21,1061.28 L426.70,1061.12 L427.20,1060.83 L427.70,1060.88 L428.20,1061.09 L428.70,1061.03 L429.20,1060.90 L429.70,1060.73 L430.19,1060.54 L430.70,1060.82 L431.21,1061.22 L431.70,1061.15 L432.20,1060.94 L432.70,1060.93 L433.20,1060.94 L433.70,1060.79 L434.19,1060.55 L434.69,1060.42 L435.19,1060.45 L435.69,1060.30 L436.19,1060.38 L436.70,1060.67 L437.20,1060.53 L437.69,1060.41 L438.19,1060.37 L438.69,1060.34 L439.19,1060.42 L439.70,1060.56 L440.20,1060.72 L440.70,1060.48 L441.19,1060.34 L441.70,1060.52 L442.20,1060.60 L442.70,1060.65" fill="none" stroke="#2e4b7e" stroke-width="3.4" stroke-linejoin="round" stroke-linecap="round"/>
<path d="M109.50,933.00 L117.50,933.00" fill="none" stroke="#a3012b" stroke-width="2.4" stroke-linejoin="round" stroke-linecap="round"/>
<path d="M114.57,932.17 L115.08,931.70 L115.57,931.03 L116.09,930.27 L116.60,929.43 L117.07,928.52 L117.62,927.61 L118.22,926.69 L118.70,925.69 L119.10,924.63 L119.56,923.58 L120.07,922.55 L120.62,921.52 L121.19,920.50 L121.71,919.45 L122.24,918.40 L122.72,917.34 L123.12,916.23 L123.58,915.16 L124.12,914.13 L124.65,913.11 L125.14,912.07 L125.66,911.05 L126.21,910.06 L126.71,909.05 L127.13,908.02 L127.53,906.98 L128.03,906.01 L128.63,905.10 L129.13,904.15 L129.55,903.18 L130.04,902.25 L130.52,901.33 L131.01,900.43 L131.55,899.58 L132.06,898.72 L132.58,897.89 L133.13,897.08 L133.63,896.26 L134.14,895.46 L134.64,894.68 L135.11,893.89 L135.65,893.16 L136.19,892.44 L136.68,891.70 L137.15,890.97 L137.61,890.25 L138.12,889.57 L138.61,888.89 L139.01,888.16 L139.50,887.50 L140.09,886.95 L140.56,886.31 L141.03,885.69 L141.59,885.15 L142.11,884.60 L142.61,884.04 L143.06,883.45 L143.55,882.90 L144.09,882.42 L144.58,881.91 L145.10,881.43 L145.65,881.00 L146.16,880.53 L146.61,880.02 L147.08,879.53 L147.55,879.06 L148.01,878.58 L148.52,878.17 L149.03,877.78 L149.54,877.40 L150.08,877.06 L150.62,876.74 L151.18,876.45 L151.65,876.05 L152.06,875.58 L152.56,875.23 L153.08,874.93 L153.60,874.65 L154.13,874.38 L154.64,874.09 L155.14,873.79 L155.62,873.48 L156.07,873.10 L156.51,872.71 L157.02,872.46 L157.55,872.26 L158.06,872.02 L158.59,871.83 L159.13,871.67 L159.63,871.45 L160.13,871.21 L160.63,870.99 L161.12,870.76 L161.60,870.50 L162.08,870.26 L162.58,870.05 L163.11,869.93 L163.62,869.77 L164.07,869.45 L164.57,869.26 L165.09,869.15 L165.59,868.96 L166.08,868.78 L166.61,868.70 L167.12,868.58 L167.63,868.44 L168.11,868.23 L168.58,867.99 L169.09,867.89 L169.61,867.80 L170.09,867.58 L170.59,867.45 L171.11,867.42 L171.63,867.35 L172.11,867.16 L172.60,867.00 L173.12,866.96 L173.61,866.82 L174.10,866.65 L174.60,866.54 L175.09,866.39 L175.58,866.26 L176.10,866.22 L176.61,866.15 L177.08,865.91 L177.57,865.76 L178.09,865.80 L178.61,865.80 L179.12,865.75 L179.62,865.66 L180.10,865.49 L180.60,865.39 L181.11,865.37 L181.62,865.34 L182.11,865.21 L182.59,865.00 L183.08,864.87 L183.58,864.80 L184.09,864.76 L184.60,864.76 L185.10,864.68 L185.59,864.55 L186.10,864.52 L186.61,864.54 L187.11,864.45 L187.60,864.33 L188.10,864.29 L188.60,864.23 L189.11,864.21 L189.61,864.16 L190.10,864.05 L190.60,863.98 L191.11,863.96 L191.61,863.92 L192.11,863.84 L192.60,863.71 L193.10,863.62 L193.60,863.56 L194.10,863.50 L194.60,863.49 L195.10,863.46 L195.60,863.38 L196.10,863.27 L196.59,863.17 L197.10,863.16 L197.60,863.18 L198.10,863.11 L198.59,862.97 L199.09,862.88 L199.58,862.78 L200.08,862.72 L200.60,862.81 L201.10,862.82 L201.60,862.69 L202.09,862.57 L202.59,862.55 L203.10,862.59 L203.60,862.56 L204.11,862.55 L204.61,862.56 L205.10,862.42 L205.59,862.23 L206.09,862.16 L206.59,862.13 L207.09,862.06 L207.58,861.95 L208.08,861.91 L208.59,861.95 L209.10,861.98 L209.60,861.98 L210.10,861.97 L210.60,861.91 L211.09,861.74 L211.59,861.67 L212.10,861.72 L212.60,861.67 L213.10,861.62 L213.60,861.67 L214.11,861.70 L214.61,861.63 L215.10,861.50 L215.60,861.44 L216.10,861.42 L216.60,861.40 L217.10,861.36 L217.60,861.28 L218.09,861.17 L218.59,861.09 L219.10,861.17 L219.61,861.22 L220.11,861.13 L220.60,861.02 L221.09,860.89 L221.59,860.81 L222.09,860.79 L222.60,860.83 L223.10,860.80 L223.59,860.67 L224.09,860.61 L224.60,860.68 L225.11,860.76 L225.61,860.66 L226.10,860.56 L226.60,860.54 L227.10,860.48 L227.60,860.37 L228.09,860.27 L228.60,860.30 L229.11,860.38 L229.60,860.31 L230.10,860.16 L230.59,860.08 L231.10,860.08 L231.60,860.07 L232.10,860.03 L232.60,860.02 L233.10,859.95 L233.60,859.92 L234.10,859.93 L234.61,859.91 L235.11,859.86 L235.60,859.76 L236.10,859.69 L236.60,859.69 L237.11,859.69 L237.61,859.68 L238.10,859.61 L238.60,859.53 L239.10,859.51 L239.60,859.44 L240.10,859.33 L240.60,859.29 L241.10,859.31 L241.60,859.31 L242.10,859.26 L242.60,859.19 L243.10,859.09 L243.60,859.09 L244.10,859.11 L244.60,859.06 L245.10,858.97 L245.59,858.85 L246.10,858.84 L246.60,858.86 L247.10,858.76 L247.59,858.69 L248.09,858.65 L248.59,858.59 L249.10,858.64 L249.61,858.68 L250.10,858.62 L250.60,858.54" fill="none" stroke="#a3012b" stroke-width="3.0" stroke-linejoin="round" stroke-linecap="round"/>
<path d="M108.00,1029.00 L109.50,1029.00" fill="none" stroke="#a3012b" stroke-width="2.0" stroke-linejoin="round" stroke-linecap="round"/>
<path d="M107.00,1038.80 L127.50,1038.80" fill="none" stroke="#a3012b" stroke-width="2.6" stroke-linejoin="round" stroke-linecap="round"/>
<path d="M126.97,1038.74 L127.47,1038.49 L127.99,1038.29 L128.50,1038.07 L129.00,1037.82 L129.51,1037.58 L130.03,1037.37 L130.52,1037.08 L130.97,1036.73 L131.48,1036.49 L132.02,1036.32 L132.52,1036.05 L132.99,1035.74 L133.49,1035.47 L134.00,1035.22 L134.50,1034.95 L134.98,1034.65 L135.46,1034.34 L135.96,1034.06 L136.49,1033.84 L137.02,1033.59 L137.51,1033.28 L138.04,1033.05 L138.57,1032.80 L139.06,1032.50 L139.56,1032.20 L140.05,1031.87 L140.54,1031.55 L141.01,1031.18 L141.47,1030.82 L142.02,1030.58 L142.55,1030.30 L143.02,1029.93 L143.49,1029.57 L143.97,1029.20 L144.47,1028.88 L145.00,1028.59 L145.51,1028.26 L146.03,1027.96 L146.53,1027.61 L146.98,1027.18 L147.47,1026.82 L148.03,1026.55 L148.57,1026.25 L149.02,1025.83 L149.49,1025.42 L150.04,1025.13 L150.56,1024.79 L151.01,1024.36 L151.49,1023.95 L152.01,1023.61 L152.56,1023.30 L153.06,1022.93 L153.47,1022.43 L153.94,1022.00 L154.49,1021.69 L154.99,1021.30 L155.44,1020.85 L155.97,1020.50 L156.52,1020.17 L157.01,1019.78 L157.51,1019.39 L158.03,1019.02 L158.53,1018.63 L159.03,1018.23 L159.54,1017.85 L160.04,1017.45 L160.51,1017.02 L161.02,1016.64 L161.53,1016.26 L162.00,1015.83 L162.47,1015.40 L162.96,1014.99 L163.50,1014.64 L164.06,1014.33 L164.58,1013.96 L165.08,1013.57 L165.56,1013.15 L166.02,1012.71 L166.50,1012.30 L167.01,1011.92 L167.52,1011.55 L168.02,1011.17 L168.50,1010.75 L169.01,1010.39 L169.52,1010.03 L170.00,1009.63 L170.50,1009.26 L171.03,1008.92 L171.53,1008.55 L172.01,1008.16 L172.50,1007.77 L173.00,1007.41 L173.51,1007.07 L173.99,1006.68 L174.45,1006.28 L174.98,1005.97 L175.52,1005.68 L176.01,1005.32 L176.49,1004.96 L177.02,1004.66 L177.54,1004.35 L178.05,1004.04 L178.55,1003.71 L179.02,1003.35 L179.51,1003.01 L180.02,1002.70 L180.54,1002.42 L181.05,1002.13 L181.54,1001.81 L182.02,1001.47 L182.50,1001.14 L182.99,1000.83 L183.51,1000.56 L184.06,1000.36 L184.54,1000.04 L184.95,999.60 L185.44,999.30 L185.99,999.12 L186.50,998.88 L186.99,998.58 L187.48,998.30 L187.98,998.04 L188.49,997.81 L189.00,997.58 L189.52,997.35 L190.02,997.12 L190.51,996.86 L191.02,996.64 L191.52,996.40 L191.99,996.11 L192.46,995.80 L192.96,995.58 L193.49,995.43 L193.98,995.19 L194.48,994.96 L194.98,994.76 L195.48,994.54 L195.98,994.34 L196.46,994.09 L196.97,993.91 L197.50,993.77 L198.00,993.58 L198.51,993.42 L199.03,993.28 L199.54,993.10 L200.01,992.84 L200.47,992.55 L200.97,992.37 L201.50,992.27 L202.02,992.16 L202.51,991.96 L203.00,991.75 L203.50,991.59 L204.00,991.43 L204.51,991.28 L205.02,991.14 L205.52,991.00 L206.02,990.84 L206.52,990.67 L207.01,990.50 L207.51,990.34 L208.01,990.18 L208.51,990.04 L209.01,989.88 L209.50,989.70 L209.99,989.53 L210.50,989.40 L210.99,989.23 L211.48,989.06 L211.99,988.94 L212.48,988.76 L212.98,988.64 L213.50,988.58 L214.01,988.48 L214.51,988.34 L215.00,988.18 L215.51,988.07 L216.03,988.02 L216.54,987.93 L217.01,987.68 L217.47,987.43 L217.98,987.34 L218.52,987.37 L219.04,987.31 L219.51,987.06 L219.99,986.88 L220.51,986.81 L221.00,986.66 L221.49,986.51 L222.00,986.41 L222.49,986.26 L223.00,986.18 L223.51,986.10 L223.99,985.91 L224.50,985.83 L225.02,985.79 L225.50,985.61 L225.98,985.42 L226.49,985.35 L227.00,985.26 L227.48,985.09 L227.98,984.94 L228.47,984.82 L228.99,984.77 L229.51,984.75 L230.00,984.62 L230.50,984.49 L231.00,984.38 L231.49,984.23 L231.99,984.13 L232.51,984.12 L233.01,984.01 L233.50,983.86 L234.01,983.80 L234.52,983.75 L235.01,983.62 L235.50,983.45 L235.99,983.29 L236.48,983.15 L236.99,983.07 L237.50,983.04 L238.01,982.98 L238.51,982.87 L239.00,982.75 L239.50,982.62 L239.99,982.47 L240.49,982.39 L241.01,982.36 L241.51,982.27 L241.99,982.10 L242.49,981.99 L243.01,981.99 L243.52,981.94 L244.02,981.85 L244.51,981.73 L245.00,981.58 L245.51,981.54 L246.02,981.49 L246.51,981.31 L247.00,981.17 L247.50,981.12 L248.01,981.07 L248.50,980.93 L248.99,980.75 L249.48,980.63 L249.97,980.49 L250.47,980.39" fill="none" stroke="#a3012b" stroke-width="3.0" stroke-linejoin="round" stroke-linecap="round"/>
<path d="M101.50,1130.70 L108.00,1130.70" fill="none" stroke="#a3012b" stroke-width="1.8" stroke-linejoin="round" stroke-linecap="round"/>
<path d="M111.60,1131.00 L112.20,1140.30 L113.00,1140.90" fill="none" stroke="#a3012b" stroke-width="1.8" stroke-linejoin="round" stroke-linecap="round"/>
<rect x="107.60" y="1133.00" width="2.00" height="2.20" fill="#a3012b"/>
<path d="M112.00,1140.90 L186.00,1140.90" fill="none" stroke="#a3012b" stroke-width="1.9" stroke-linejoin="round" stroke-linecap="round"/>
<path d="M294.00,921.50 L294.50,921.50 L295.00,921.51 L295.50,921.52 L296.00,921.53 L296.50,921.54 L297.00,921.56 L297.50,921.58 L298.00,921.61 L298.50,921.67 L299.00,921.78 L299.50,921.93 L300.00,922.16 L300.50,922.58 L301.00,923.33 L301.50,924.43 L302.00,925.69 L302.50,926.93 L303.00,928.10 L303.50,929.21 L304.00,930.30 L304.50,931.34 L305.00,932.10" fill="none" stroke="#a3012b" stroke-width="2.4" stroke-linejoin="round" stroke-linecap="round"/>
<path d="M323.84,932.56 L324.31,932.20 L324.79,931.69 L325.34,931.17 L325.87,930.55 L326.33,929.84 L326.71,929.03 L327.12,928.21 L327.67,927.46 L328.24,926.69 L328.75,925.88 L329.22,925.01 L329.69,924.15 L330.22,923.31 L330.75,922.47 L331.29,921.62 L331.86,920.79 L332.38,919.94 L332.85,919.06 L333.31,918.18 L333.82,917.33 L334.32,916.48 L334.81,915.64 L335.33,914.82 L335.85,914.01 L336.40,913.23 L336.96,912.47 L337.39,911.64 L337.81,910.81 L338.32,910.05 L338.80,909.29 L339.27,908.53 L339.76,907.80 L340.25,907.08 L340.77,906.40 L341.30,905.74 L341.84,905.10 L342.28,904.41 L342.68,903.69 L343.19,903.07 L343.73,902.49 L344.24,901.91 L344.76,901.35 L345.29,900.80 L345.78,900.24 L346.26,899.69 L346.81,899.21 L347.34,898.73 L347.84,898.24 L348.35,897.77 L348.82,897.28 L349.28,896.77 L349.78,896.33 L350.30,895.93 L350.82,895.53 L351.33,895.14 L351.85,894.78 L352.33,894.38 L352.77,893.92 L353.25,893.53 L353.79,893.24 L354.32,892.95 L354.84,892.65 L355.34,892.34 L355.81,891.99 L356.29,891.66 L356.79,891.37 L357.29,891.10 L357.81,890.87 L358.32,890.62 L358.79,890.31 L359.31,890.12 L359.84,889.94 L360.30,889.63 L360.77,889.34 L361.26,889.10 L361.77,888.92 L362.30,888.78 L362.79,888.57 L363.28,888.34 L363.76,888.11 L364.25,887.92 L364.78,887.84 L365.30,887.71 L365.80,887.58 L366.32,887.47 L366.81,887.29 L367.30,887.13 L367.81,887.03 L368.31,886.89 L368.79,886.67 L369.27,886.48 L369.77,886.36 L370.29,886.32 L370.80,886.27 L371.31,886.18 L371.82,886.15 L372.33,886.08 L372.82,885.96 L373.32,885.84 L373.82,885.72 L374.31,885.58 L374.80,885.47 L375.30,885.38 L375.80,885.32 L376.32,885.32 L376.81,885.23 L377.30,885.08 L377.80,885.01 L378.30,884.94 L378.80,884.87 L379.30,884.80 L379.80,884.71 L380.30,884.65 L380.80,884.59 L381.30,884.49 L381.80,884.44 L382.30,884.43 L382.81,884.43 L383.32,884.46 L383.82,884.38 L384.30,884.20 L384.80,884.07 L385.29,883.96 L385.79,883.92 L386.29,883.89 L386.79,883.81 L387.29,883.75 L387.80,883.79 L388.30,883.77 L388.80,883.70 L389.30,883.69 L389.81,883.73 L390.31,883.67 L390.80,883.57 L391.30,883.52 L391.79,883.41 L392.29,883.34 L392.80,883.39 L393.31,883.44 L393.81,883.40 L394.31,883.36 L394.81,883.34 L395.30,883.24 L395.80,883.18 L396.30,883.18 L396.80,883.08 L397.29,882.94 L397.79,882.90 L398.30,882.99 L398.81,883.06 L399.31,883.00 L399.80,882.93 L400.30,882.87 L400.80,882.77 L401.30,882.74 L401.80,882.76 L402.30,882.74 L402.80,882.68 L403.30,882.66 L403.80,882.63 L404.30,882.59 L404.80,882.57 L405.30,882.55 L405.80,882.54 L406.30,882.41 L406.79,882.33 L407.30,882.43 L407.81,882.46 L408.31,882.40 L408.81,882.38 L409.30,882.30 L409.80,882.14 L410.29,882.03 L410.79,882.04 L411.30,882.09 L411.80,882.07 L412.29,881.98 L412.80,881.98 L413.30,882.03 L413.80,881.95 L414.30,881.85 L414.80,881.87 L415.30,881.95 L415.81,881.94 L416.31,881.91 L416.81,881.91 L417.31,881.87 L417.81,881.82 L418.30,881.76 L418.80,881.72 L419.30,881.69 L419.80,881.61 L420.30,881.51 L420.80,881.48 L421.30,881.46 L421.80,881.43 L422.30,881.47 L422.81,881.52 L423.31,881.47 L423.80,881.38 L424.30,881.37 L424.80,881.33 L425.30,881.24 L425.80,881.26 L426.31,881.33 L426.81,881.32 L427.31,881.24 L427.80,881.11 L428.29,880.98 L428.79,880.96 L429.30,881.00 L429.80,881.01 L430.30,880.92 L430.79,880.80 L431.30,880.81 L431.80,880.84 L432.30,880.79 L432.80,880.78 L433.30,880.80 L433.80,880.77 L434.30,880.75 L434.80,880.75 L435.30,880.72 L435.80,880.61 L436.30,880.51 L436.80,880.49 L437.30,880.49 L437.80,880.45 L438.29,880.37 L438.79,880.36 L439.30,880.41 L439.80,880.45 L440.30,880.41 L440.80,880.35 L441.30,880.34 L441.80,880.30 L442.30,880.27 L442.80,880.26" fill="none" stroke="#a3012b" stroke-width="3.0" stroke-linejoin="round" stroke-linecap="round"/>
<path d="M293.50,1027.67 L294.00,1027.65 L294.50,1027.63 L295.00,1027.60 L295.50,1027.56 L296.00,1027.53 L296.50,1027.50 L297.00,1027.47 L297.50,1027.43 L298.00,1027.40 L298.50,1027.36 L299.00,1027.32 L299.50,1027.28 L300.00,1027.24 L300.50,1027.21 L301.00,1027.18 L301.50,1027.16 L302.00,1027.16 L302.50,1027.18 L303.00,1027.24 L303.50,1027.36 L304.00,1027.52 L304.50,1027.73 L305.00,1027.97 L305.50,1028.24 L306.00,1028.53 L306.50,1028.85 L307.00,1029.18 L307.50,1029.54 L308.00,1029.91 L308.50,1030.30 L309.00,1030.70 L309.50,1031.09 L310.00,1031.49 L310.50,1031.88 L311.00,1032.27 L311.50,1032.66 L312.00,1033.06 L312.50,1033.45 L313.00,1033.85 L313.50,1034.26 L314.00,1034.68 L314.50,1035.12 L315.00,1035.59 L315.50,1036.09 L316.00,1036.62 L316.50,1037.17 L317.00,1037.72 L317.50,1038.23 L318.00,1038.67 L318.50,1039.03 L319.00,1039.28 L319.50,1039.45 L320.00,1039.54 L320.50,1039.58 L321.00,1039.59 L321.50,1039.60 L322.00,1039.60 L322.50,1039.60 L323.00,1039.60 L323.50,1039.60 L324.00,1039.60 L324.50,1039.60 L325.00,1039.60 L325.50,1039.60 L326.00,1039.60 L326.50,1039.60 L327.00,1039.60 L327.50,1039.60 L328.00,1039.60 L328.50,1039.60 L329.00,1039.60 L329.50,1039.60 L330.00,1039.60 L359.40,1039.60" fill="none" stroke="#a3012b" stroke-width="2.2" stroke-linejoin="round" stroke-linecap="round"/>
<path d="M359.40,1039.60 L359.90,1039.54 L360.40,1039.47 L360.90,1039.37 L361.40,1039.27 L361.90,1039.15 L362.40,1039.02 L362.90,1038.88 L363.40,1038.73 L363.90,1038.58 L364.40,1038.42 L364.90,1038.25 L365.40,1038.08 L365.90,1037.91 L366.40,1037.74 L366.90,1037.57 L367.40,1037.40 L367.90,1037.24 L368.40,1037.07 L368.90,1036.91 L369.40,1036.76 L369.90,1036.60 L370.40,1036.46 L370.90,1036.32 L371.40,1036.18 L371.90,1036.05 L372.40,1035.92 L372.90,1035.80 L373.40,1035.69 L373.90,1035.58 L374.40,1035.47 L374.90,1035.37 L375.40,1035.28 L375.90,1035.19 L376.40,1035.10 L376.90,1035.02 L377.40,1034.94 L377.90,1034.87 L378.40,1034.80 L378.90,1034.73 L379.40,1034.66 L379.90,1034.60 L380.40,1034.54 L380.90,1034.48 L381.40,1034.42 L381.90,1034.37 L382.40,1034.31 L382.90,1034.26 L383.40,1034.21 L383.90,1034.16 L384.40,1034.11 L384.90,1034.06 L385.40,1034.01 L385.90,1033.96 L386.40,1033.92 L386.90,1033.87 L387.40,1033.82 L387.90,1033.78 L388.40,1033.73 L388.90,1033.68 L389.40,1033.64 L389.90,1033.59 L390.40,1033.55 L390.90,1033.50 L391.40,1033.46 L391.90,1033.41 L392.40,1033.37 L392.90,1033.32 L393.40,1033.28 L393.90,1033.24 L394.40,1033.19 L394.90,1033.15 L395.40,1033.10 L395.90,1033.06 L396.40,1033.01 L396.90,1032.97 L397.40,1032.92 L397.90,1032.88 L398.40,1032.83 L398.90,1032.79 L399.40,1032.75 L399.90,1032.70 L400.40,1032.66 L400.90,1032.61 L401.40,1032.57 L401.90,1032.52 L402.40,1032.48 L402.90,1032.43 L403.40,1032.39 L403.90,1032.35 L404.40,1032.30 L404.90,1032.26 L405.40,1032.21 L405.90,1032.17 L406.40,1032.12 L406.90,1032.08 L407.40,1032.03 L407.90,1031.99 L408.40,1031.95 L408.90,1031.90 L409.40,1031.86 L409.90,1031.81 L410.40,1031.77 L410.90,1031.72 L411.40,1031.68 L411.90,1031.63 L412.40,1031.59 L412.90,1031.55 L413.40,1031.50 L413.90,1031.46 L414.40,1031.41 L414.90,1031.37 L415.40,1031.32 L415.90,1031.28 L416.40,1031.23 L416.90,1031.19 L417.40,1031.15 L417.90,1031.10 L418.40,1031.06 L418.90,1031.01 L419.40,1030.97 L419.90,1030.92 L420.40,1030.88 L420.90,1030.83 L421.40,1030.79 L421.90,1030.75 L422.40,1030.70 L422.90,1030.66 L423.40,1030.61 L423.90,1030.57 L424.40,1030.52 L424.90,1030.48 L425.40,1030.43 L425.90,1030.39 L426.40,1030.35 L426.90,1030.30 L427.40,1030.26 L427.90,1030.21 L428.40,1030.17 L428.90,1030.12 L429.40,1030.08 L429.90,1030.03 L430.40,1029.99 L430.90,1029.95 L431.40,1029.90 L431.90,1029.86 L432.40,1029.81 L432.90,1029.77 L433.40,1029.72 L433.90,1029.68 L434.40,1029.63 L434.90,1029.59 L435.40,1029.55 L435.90,1029.50 L436.40,1029.46 L436.90,1029.41 L437.40,1029.37 L437.90,1029.32 L438.40,1029.28 L438.90,1029.23 L439.40,1029.19 L439.90,1029.15 L440.40,1029.10 L440.90,1029.06 L441.40,1029.01 L441.90,1028.97 L442.40,1028.92 L442.90,1028.88" fill="none" stroke="#a3012b" stroke-width="2.2" stroke-linejoin="round" stroke-linecap="round"/>
<rect x="296.30" y="1136.40" width="2.20" height="2.20" fill="#a3012b"/>
<path d="M292.90,1128.71 L293.40,1128.66 L293.90,1128.61 L294.40,1128.55 L294.90,1128.48 L295.40,1128.42 L295.90,1128.35 L296.40,1128.28 L296.90,1128.22 L297.40,1128.15 L297.90,1128.09 L298.40,1128.03 L298.90,1127.97 L299.40,1127.92 L299.90,1127.87 L300.40,1127.83 L300.90,1127.80 L301.40,1127.78 L301.90,1127.78 L302.40,1127.79 L302.90,1127.81 L303.40,1127.85 L303.90,1127.91 L304.40,1127.99 L304.90,1128.07 L305.40,1128.18 L305.90,1128.29 L306.40,1128.41 L306.90,1128.53 L307.40,1128.67 L307.90,1128.80 L308.40,1128.94 L308.90,1129.07 L309.40,1129.21 L309.90,1129.34 L310.40,1129.46 L310.90,1129.57 L311.40,1129.68 L311.90,1129.77 L312.40,1129.86 L312.90,1129.93 L313.40,1130.00 L313.90,1130.06 L314.40,1130.11 L314.90,1130.16 L315.40,1130.21 L315.90,1130.25 L316.40,1130.29 L316.90,1130.33 L317.40,1130.37 L317.90,1130.41 L318.40,1130.44 L318.90,1130.48 L319.40,1130.51 L319.90,1130.55 L320.40,1130.58 L320.90,1130.61 L321.40,1130.64 L321.90,1130.67 L322.40,1130.70 L322.90,1130.72 L323.40,1130.75 L323.90,1130.78 L324.40,1130.80 L324.90,1130.83 L325.40,1130.85 L325.90,1130.88 L326.40,1130.90 L326.90,1130.93 L327.40,1130.95 L327.90,1130.98 L328.40,1131.00 L328.90,1131.03 L329.40,1131.05 L329.90,1131.08 L330.40,1131.10 L330.90,1131.12 L331.40,1131.15 L331.90,1131.17 L332.40,1131.19 L332.90,1131.22 L333.40,1131.24 L333.90,1131.26 L334.40,1131.28 L334.90,1131.30 L335.40,1131.33 L335.90,1131.35 L336.40,1131.37 L336.90,1131.39 L337.40,1131.41 L337.90,1131.43 L338.40,1131.45 L338.90,1131.47 L339.40,1131.49 L339.90,1131.51 L340.40,1131.53 L340.90,1131.54 L341.40,1131.56 L341.90,1131.58 L342.40,1131.60 L342.90,1131.62 L343.40,1131.64 L343.90,1131.66 L344.40,1131.68 L344.90,1131.70 L345.40,1131.71 L345.90,1131.73 L346.40,1131.75 L346.90,1131.77 L347.40,1131.79 L347.90,1131.81 L348.40,1131.83 L348.90,1131.84 L349.40,1131.86 L349.90,1131.88 L350.40,1131.90 L350.90,1131.92 L351.40,1131.93 L351.90,1131.95 L352.40,1131.97 L352.90,1131.99 L353.40,1132.00 L353.90,1132.02 L354.40,1132.04 L354.90,1132.06 L355.40,1132.07 L355.90,1132.09 L356.40,1132.11 L356.90,1132.12 L357.40,1132.14 L357.90,1132.16 L358.40,1132.17 L358.90,1132.19 L359.40,1132.21 L359.90,1132.22 L360.40,1132.24 L360.90,1132.26 L361.40,1132.27 L361.90,1132.29 L362.40,1132.31 L362.90,1132.32 L363.40,1132.34 L363.90,1132.36 L364.40,1132.37 L364.90,1132.39 L365.40,1132.40 L365.90,1132.42 L366.40,1132.44 L366.90,1132.45 L367.40,1132.47 L367.90,1132.49 L368.40,1132.50 L368.90,1132.52 L369.40,1132.54 L369.90,1132.55 L370.40,1132.57 L370.90,1132.59 L371.40,1132.61 L371.90,1132.62 L372.40,1132.64 L372.90,1132.66 L373.40,1132.67 L373.90,1132.69 L374.40,1132.71 L374.90,1132.73 L375.40,1132.74 L375.90,1132.76 L376.40,1132.78 L376.90,1132.80 L377.40,1132.81 L377.90,1132.83 L378.40,1132.85 L378.90,1132.87 L379.40,1132.89 L379.90,1132.90 L380.40,1132.92 L380.90,1132.94 L381.40,1132.96 L381.90,1132.98 L382.40,1133.00 L382.90,1133.02 L383.40,1133.04 L383.90,1133.06 L384.40,1133.08 L384.90,1133.10 L385.40,1133.12 L385.90,1133.14 L386.40,1133.17 L386.90,1133.19 L387.40,1133.21 L387.90,1133.24 L388.40,1133.27 L388.90,1133.29 L389.40,1133.32 L389.90,1133.35 L390.40,1133.38 L390.90,1133.41 L391.40,1133.44 L391.90,1133.47 L392.40,1133.50 L392.90,1133.53 L393.40,1133.55 L393.90,1133.58 L394.40,1133.61 L394.90,1133.64 L395.40,1133.67 L395.90,1133.70 L396.40,1133.72 L396.90,1133.75 L397.40,1133.78 L397.90,1133.80 L398.40,1133.82 L398.90,1133.85 L399.40,1133.87 L399.90,1133.89 L400.40,1133.90 L400.90,1133.92 L401.40,1133.94 L401.90,1133.95 L402.40,1133.96 L402.90,1133.97 L403.40,1133.98 L403.90,1133.99 L404.40,1133.99 L404.90,1133.99 L405.40,1134.00 L405.90,1134.00 L406.40,1134.00 L406.90,1134.00 L407.40,1134.00 L407.90,1134.00 L408.40,1134.00 L408.90,1134.00 L409.40,1134.00 L409.90,1134.00 L410.40,1134.00 L410.90,1134.00 L411.40,1134.00 L411.90,1134.00 L412.40,1134.00 L412.90,1134.00 L413.40,1134.00 L413.90,1134.00 L414.40,1134.00 L414.90,1134.00 L415.40,1134.00 L415.90,1134.00 L416.40,1134.00 L416.90,1134.00 L417.40,1134.00 L417.90,1134.00 L418.40,1134.00 L418.90,1134.00 L419.40,1134.00 L419.90,1134.00 L420.40,1134.00 L420.90,1134.00 L421.40,1134.00 L421.90,1134.00 L422.40,1134.00 L422.90,1134.00 L423.40,1134.00 L423.90,1134.00 L424.40,1134.00 L424.90,1134.00 L425.40,1133.99 L425.90,1133.99 L426.40,1133.98 L426.90,1133.98 L427.40,1133.97 L427.90,1133.96 L428.40,1133.95 L428.90,1133.93 L429.40,1133.92 L429.90,1133.90 L430.40,1133.88 L430.90,1133.86 L431.40,1133.84 L431.90,1133.82 L432.40,1133.80 L432.90,1133.77 L433.40,1133.74 L433.90,1133.72 L434.40,1133.69 L434.90,1133.66 L435.40,1133.63 L435.90,1133.60 L436.40,1133.57 L436.90,1133.53 L437.40,1133.50 L437.90,1133.47 L438.40,1133.43 L438.90,1133.40 L439.40,1133.36 L439.90,1133.33 L440.40,1133.29 L440.90,1133.26 L441.40,1133.23 L441.90,1133.20 L442.40,1133.17 L442.90,1133.15 L443.00,1133.13" fill="none" stroke="#a3012b" stroke-width="2.2" stroke-linejoin="round" stroke-linecap="round"/>
<path d="M101.50,922.70 L109.50,922.70" fill="none" stroke="#e8bc1e" stroke-width="2.4" stroke-linejoin="round" stroke-linecap="round"/>
<path d="M109.50,922.70 L111.00,925.00 L112.50,929.00 L114.20,932.20" fill="none" stroke="#e8bc1e" stroke-width="2.4" stroke-linejoin="round" stroke-linecap="round"/>
<path d="M114.60,932.20 L115.10,931.57 L115.60,930.94 L116.10,930.33 L116.60,929.71 L117.10,929.10 L117.60,928.50 L118.10,927.90 L118.60,927.30 L119.10,926.70 L119.60,926.11 L120.10,925.51 L120.60,924.92 L121.10,924.33 L121.60,923.74 L122.10,923.15 L122.60,922.56 L123.10,921.97 L123.60,921.38 L124.10,920.79 L124.60,920.20 L125.10,919.61 L125.60,919.02 L126.10,918.43 L126.60,917.84 L127.10,917.25 L127.60,916.65 L128.10,916.06 L128.60,915.46 L129.10,914.87 L129.60,914.27 L130.10,913.68 L130.60,913.08 L131.10,912.49 L131.60,911.89 L132.10,911.29 L132.60,910.70 L133.10,910.10 L133.60,909.51 L134.10,908.92 L134.60,908.33 L135.10,907.74 L135.60,907.15 L136.10,906.56 L136.60,905.98 L137.10,905.40 L137.60,904.82 L138.10,904.24 L138.60,903.67 L139.10,903.10 L139.60,902.54 L140.10,901.98 L140.60,901.42 L141.10,900.87 L141.60,900.32 L142.10,899.78 L142.60,899.24 L143.10,898.71 L143.60,898.18 L144.10,897.66 L144.60,897.15 L145.10,896.64 L145.60,896.14 L146.10,895.65 L146.60,895.17 L147.10,894.69 L147.60,894.22 L148.10,893.75 L148.60,893.30 L149.10,892.85 L149.60,892.41 L150.10,891.98 L150.60,891.55 L151.10,891.14 L151.60,890.73 L152.10,890.33 L152.60,889.94 L153.10,889.56 L153.60,889.18 L154.10,888.82 L154.60,888.46 L155.10,888.11 L155.60,887.77 L156.10,887.44 L156.60,887.12 L157.10,886.80 L157.60,886.49 L158.10,886.19 L158.60,885.90 L159.10,885.62 L159.60,885.34 L160.10,885.07 L160.60,884.81 L161.10,884.56 L161.60,884.31 L162.10,884.07 L162.60,883.84 L163.10,883.62 L163.60,883.40 L164.10,883.19 L164.60,882.98 L165.10,882.78 L165.60,882.59 L166.10,882.40 L166.60,882.22 L167.10,882.04 L167.60,881.87 L168.10,881.71 L168.60,881.55 L169.10,881.39 L169.60,881.24 L170.10,881.09 L170.60,880.95 L171.10,880.82 L171.60,880.68 L172.10,880.55 L172.60,880.43 L173.10,880.31 L173.60,880.19 L174.10,880.08 L174.60,879.97 L175.10,879.86 L175.60,879.76 L176.10,879.65 L176.60,879.56 L177.10,879.46 L177.60,879.37 L178.10,879.28 L178.60,879.19 L179.10,879.11 L179.60,879.02 L180.10,878.94 L180.60,878.86 L181.10,878.79 L181.60,878.71 L182.10,878.64 L182.60,878.57 L183.10,878.50 L183.60,878.43 L184.10,878.37 L184.60,878.30 L185.10,878.24 L185.60,878.18 L186.10,878.12 L186.60,878.06 L187.10,878.00 L187.60,877.95 L188.10,877.89 L188.60,877.84 L189.10,877.78 L189.60,877.73 L190.10,877.68 L190.60,877.63 L191.10,877.58 L191.60,877.54 L192.10,877.49 L192.60,877.45 L193.10,877.40 L193.60,877.36 L194.10,877.31 L194.60,877.27 L195.10,877.23 L195.60,877.19 L196.10,877.15 L196.60,877.11 L197.10,877.07 L197.60,877.04 L198.10,877.00 L198.60,876.96 L199.10,876.93 L199.60,876.89 L200.10,876.86 L200.60,876.82 L201.10,876.79 L201.60,876.76 L202.10,876.73 L202.60,876.69 L203.10,876.66 L203.60,876.63 L204.10,876.60 L204.60,876.57 L205.10,876.54 L205.60,876.52 L206.10,876.49 L206.60,876.46 L207.10,876.43 L207.60,876.41 L208.10,876.38 L208.60,876.36 L209.10,876.33 L209.60,876.31 L210.10,876.28 L210.60,876.26 L211.10,876.24 L211.60,876.21 L212.10,876.19 L212.60,876.17 L213.10,876.15 L213.60,876.12 L214.10,876.10 L214.60,876.08 L215.10,876.06 L215.60,876.04 L216.10,876.02 L216.60,876.00 L217.10,875.98 L217.60,875.96 L218.10,875.95 L218.60,875.93 L219.10,875.91 L219.60,875.89 L220.10,875.88 L220.60,875.86 L221.10,875.84 L221.60,875.83 L222.10,875.81 L222.60,875.79 L223.10,875.78 L223.60,875.76 L224.10,875.75 L224.60,875.73 L225.10,875.72 L225.60,875.70 L226.10,875.69 L226.60,875.68 L227.10,875.66 L227.60,875.65 L228.10,875.64 L228.60,875.62 L229.10,875.61 L229.60,875.60 L230.10,875.59 L230.60,875.58 L231.10,875.56 L231.60,875.55 L232.10,875.54 L232.60,875.53 L233.10,875.52 L233.60,875.51 L234.10,875.50 L234.60,875.49 L235.10,875.48 L235.60,875.47 L236.10,875.46 L236.60,875.45 L237.10,875.44 L237.60,875.43 L238.10,875.42 L238.60,875.41 L239.10,875.40 L239.60,875.39 L240.10,875.38 L240.60,875.37 L241.10,875.37 L241.60,875.36 L242.10,875.35 L242.60,875.34 L243.10,875.33 L243.60,875.33 L244.10,875.32 L244.60,875.31 L245.10,875.30 L245.60,875.30 L246.10,875.29 L246.60,875.28 L247.10,875.28 L247.60,875.27 L248.10,875.26 L248.60,875.26 L249.10,875.25 L249.60,875.24 L250.10,875.24 L250.60,875.23" fill="none" stroke="#e8bc1e" stroke-width="2.6" stroke-linejoin="round" stroke-linecap="round"/>
<path d="M101.50,1028.70 L111.30,1028.70" fill="none" stroke="#e8bc1e" stroke-width="2.4" stroke-linejoin="round" stroke-linecap="round"/>
<path d="M111.50,1028.70 L112.00,1033.00 L112.80,1038.80" fill="none" stroke="#e8bc1e" stroke-width="2.4" stroke-linejoin="round" stroke-linecap="round"/>
<path d="M107.00,1038.60 L120.40,1038.60" fill="none" stroke="#e8bc1e" stroke-width="2.4" stroke-linejoin="round" stroke-linecap="round"/>
<path d="M120.00,1038.60 L120.50,1038.43 L121.00,1038.23 L121.50,1038.01 L122.00,1037.76 L122.50,1037.49 L123.00,1037.21 L123.50,1036.91 L124.00,1036.59 L124.50,1036.25 L125.00,1035.91 L125.50,1035.54 L126.00,1035.17 L126.50,1034.78 L127.00,1034.38 L127.50,1033.97 L128.00,1033.55 L128.50,1033.12 L129.00,1032.68 L129.50,1032.23 L130.00,1031.78 L130.50,1031.31 L131.00,1030.84 L131.50,1030.37 L132.00,1029.89 L132.50,1029.40 L133.00,1028.91 L133.50,1028.41 L134.00,1027.91 L134.50,1027.41 L135.00,1026.90 L135.50,1026.40 L136.00,1025.89 L136.50,1025.38 L137.00,1024.87 L137.50,1024.36 L138.00,1023.84 L138.50,1023.33 L139.00,1022.82 L139.50,1022.31 L140.00,1021.81 L140.50,1021.30 L141.00,1020.80 L141.50,1020.30 L142.00,1019.80 L142.50,1019.30 L143.00,1018.81 L143.50,1018.32 L144.00,1017.84 L144.50,1017.36 L145.00,1016.88 L145.50,1016.41 L146.00,1015.95 L146.50,1015.48 L147.00,1015.03 L147.50,1014.58 L148.00,1014.13 L148.50,1013.69 L149.00,1013.26 L149.50,1012.83 L150.00,1012.41 L150.50,1011.99 L151.00,1011.58 L151.50,1011.18 L152.00,1010.78 L152.50,1010.39 L153.00,1010.00 L153.50,1009.62 L154.00,1009.25 L154.50,1008.88 L155.00,1008.52 L155.50,1008.17 L156.00,1007.82 L156.50,1007.48 L157.00,1007.15 L157.50,1006.82 L158.00,1006.50 L158.50,1006.19 L159.00,1005.88 L159.50,1005.58 L160.00,1005.28 L160.50,1004.99 L161.00,1004.71 L161.50,1004.43 L162.00,1004.16 L162.50,1003.89 L163.00,1003.63 L163.50,1003.37 L164.00,1003.12 L164.50,1002.88 L165.00,1002.64 L165.50,1002.41 L166.00,1002.18 L166.50,1001.96 L167.00,1001.74 L167.50,1001.53 L168.00,1001.32 L168.50,1001.12 L169.00,1000.92 L169.50,1000.73 L170.00,1000.54 L170.50,1000.35 L171.00,1000.17 L171.50,1000.00 L172.00,999.82 L172.50,999.65 L173.00,999.49 L173.50,999.33 L174.00,999.17 L174.50,999.02 L175.00,998.87 L175.50,998.72 L176.00,998.58 L176.50,998.44 L177.00,998.30 L177.50,998.17 L178.00,998.04 L178.50,997.91 L179.00,997.79 L179.50,997.66 L180.00,997.54 L180.50,997.43 L181.00,997.31 L181.50,997.20 L182.00,997.09 L182.50,996.98 L183.00,996.88 L183.50,996.77 L184.00,996.67 L184.50,996.57 L185.00,996.48 L185.50,996.38 L186.00,996.29 L186.50,996.19 L187.00,996.10 L187.50,996.02 L188.00,995.93 L188.50,995.84 L189.00,995.76 L189.50,995.68 L190.00,995.60 L190.50,995.52 L191.00,995.44 L191.50,995.36 L192.00,995.28 L192.50,995.21 L193.00,995.14 L193.50,995.06 L194.00,994.99 L194.50,994.92 L195.00,994.85 L195.50,994.78 L196.00,994.72 L196.50,994.65 L197.00,994.58 L197.50,994.52 L198.00,994.46 L198.50,994.39 L199.00,994.33 L199.50,994.27 L200.00,994.21 L200.50,994.15 L201.00,994.09 L201.50,994.03 L202.00,993.97 L202.50,993.91 L203.00,993.86 L203.50,993.80 L204.00,993.74 L204.50,993.69 L205.00,993.63 L205.50,993.58 L206.00,993.53 L206.50,993.47 L207.00,993.42 L207.50,993.37 L208.00,993.32 L208.50,993.27 L209.00,993.22 L209.50,993.17 L210.00,993.12 L210.50,993.07 L211.00,993.02 L211.50,992.97 L212.00,992.92 L212.50,992.87 L213.00,992.83 L213.50,992.78 L214.00,992.73 L214.50,992.69 L215.00,992.64 L215.50,992.59 L216.00,992.55 L216.50,992.50 L217.00,992.46 L217.50,992.42 L218.00,992.37 L218.50,992.33 L219.00,992.28 L219.50,992.24 L220.00,992.20 L220.50,992.16 L221.00,992.11 L221.50,992.07 L222.00,992.03 L222.50,991.99 L223.00,991.95 L223.50,991.91 L224.00,991.87 L224.50,991.83 L225.00,991.79 L225.50,991.75 L226.00,991.71 L226.50,991.67 L227.00,991.63 L227.50,991.59 L228.00,991.55 L228.50,991.52 L229.00,991.48 L229.50,991.44 L230.00,991.40 L230.50,991.37 L231.00,991.33 L231.50,991.29 L232.00,991.26 L232.50,991.22 L233.00,991.18 L233.50,991.15 L234.00,991.11 L234.50,991.08 L235.00,991.04 L235.50,991.01 L236.00,990.97 L236.50,990.94 L237.00,990.91 L237.50,990.87 L238.00,990.84 L238.50,990.81 L239.00,990.77 L239.50,990.74 L240.00,990.71 L240.50,990.67 L241.00,990.64 L241.50,990.61 L242.00,990.58 L242.50,990.55 L243.00,990.51 L243.50,990.48 L244.00,990.45 L244.50,990.42 L245.00,990.39 L245.50,990.36 L246.00,990.33 L246.50,990.30 L247.00,990.27 L247.50,990.24 L248.00,990.21 L248.50,990.18 L249.00,990.15 L249.50,990.12 L250.00,990.09 L250.50,990.06" fill="none" stroke="#e8bc1e" stroke-width="2.6" stroke-linejoin="round" stroke-linecap="round"/>
<rect x="106.20" y="1140.00" width="3.00" height="1.30" fill="#e8bc1e"/>
<path d="M101.50,1129.20 L110.00,1129.20" fill="none" stroke="#e8bc1e" stroke-width="2.4" stroke-linejoin="round" stroke-linecap="round"/>
<path d="M110.00,1129.27 L110.25,1129.38 L110.50,1129.55 L110.75,1129.81 L111.00,1130.16 L111.25,1130.62 L111.50,1131.23 L111.75,1131.99 L112.00,1132.87 L112.25,1133.84 L112.50,1134.83 L112.75,1135.80 L113.00,1136.68 L113.25,1137.42 L113.50,1138.01 L113.75,1138.47 L114.00,1138.83 L114.25,1139.13 L114.50,1139.36 L114.75,1139.53 L115.00,1139.65 L115.25,1139.72 L115.50,1139.77 L115.75,1139.81 L116.00,1139.84 L116.25,1139.86 L116.50,1139.88 L116.75,1139.89 L117.00,1139.90" fill="none" stroke="#e8bc1e" stroke-width="2.4" stroke-linejoin="round" stroke-linecap="round"/>
<path d="M116.00,1139.90 L251.30,1139.90" fill="none" stroke="#e8bc1e" stroke-width="2.1" stroke-linejoin="round" stroke-linecap="round"/>
<path d="M294.00,923.20 L294.50,923.20 L295.00,923.21 L295.50,923.22 L296.00,923.23 L296.50,923.24 L297.00,923.26 L297.50,923.28 L298.00,923.32 L298.50,923.41 L299.00,923.55 L299.50,923.77 L300.00,924.11 L300.50,924.65 L301.00,925.43 L301.50,926.40 L302.00,927.45 L302.50,928.47 L303.00,929.47 L303.50,930.46 L304.00,931.41 L304.50,932.13" fill="none" stroke="#e8bc1e" stroke-width="2.4" stroke-linejoin="round" stroke-linecap="round"/>
<path d="M304.00,932.50 L323.40,932.50" fill="none" stroke="#e8bc1e" stroke-width="2.2" stroke-linejoin="round" stroke-linecap="round"/>
<rect x="294.20" y="931.80" width="2.60" height="1.40" fill="#e8bc1e"/>
<rect x="294.80" y="925.50" width="1.60" height="2.20" fill="#e8bc1e"/>
<path d="M322.80,932.50 L323.30,932.32 L323.80,932.04 L324.30,931.68 L324.80,931.27 L325.30,930.81 L325.80,930.31 L326.30,929.77 L326.80,929.20 L327.30,928.60 L327.80,927.98 L328.30,927.34 L328.80,926.69 L329.30,926.02 L329.80,925.34 L330.30,924.64 L330.80,923.94 L331.30,923.24 L331.80,922.53 L332.30,921.82 L332.80,921.11 L333.30,920.40 L333.80,919.70 L334.30,919.00 L334.80,918.30 L335.30,917.61 L335.80,916.93 L336.30,916.25 L336.80,915.59 L337.30,914.93 L337.80,914.29 L338.30,913.65 L338.80,913.03 L339.30,912.42 L339.80,911.82 L340.30,911.24 L340.80,910.66 L341.30,910.11 L341.80,909.56 L342.30,909.03 L342.80,908.51 L343.30,908.01 L343.80,907.51 L344.30,907.04 L344.80,906.57 L345.30,906.12 L345.80,905.69 L346.30,905.27 L346.80,904.86 L347.30,904.46 L347.80,904.08 L348.30,903.71 L348.80,903.35 L349.30,903.00 L349.80,902.67 L350.30,902.34 L350.80,902.03 L351.30,901.73 L351.80,901.44 L352.30,901.17 L352.80,900.90 L353.30,900.64 L353.80,900.39 L354.30,900.15 L354.80,899.92 L355.30,899.70 L355.80,899.49 L356.30,899.28 L356.80,899.08 L357.30,898.89 L357.80,898.71 L358.30,898.54 L358.80,898.37 L359.30,898.21 L359.80,898.05 L360.30,897.90 L360.80,897.76 L361.30,897.62 L361.80,897.49 L362.30,897.36 L362.80,897.23 L363.30,897.12 L363.80,897.00 L364.30,896.89 L364.80,896.79 L365.30,896.68 L365.80,896.59 L366.30,896.49 L366.80,896.40 L367.30,896.31 L367.80,896.23 L368.30,896.14 L368.80,896.06 L369.30,895.99 L369.80,895.91 L370.30,895.84 L370.80,895.77 L371.30,895.70 L371.80,895.63 L372.30,895.57 L372.80,895.51 L373.30,895.45 L373.80,895.39 L374.30,895.33 L374.80,895.27 L375.30,895.22 L375.80,895.16 L376.30,895.11 L376.80,895.06 L377.30,895.01 L377.80,894.96 L378.30,894.91 L378.80,894.86 L379.30,894.82 L379.80,894.77 L380.30,894.73 L380.80,894.68 L381.30,894.64 L381.80,894.60 L382.30,894.55 L382.80,894.51 L383.30,894.47 L383.80,894.43 L384.30,894.39 L384.80,894.35 L385.30,894.31 L385.80,894.28 L386.30,894.24 L386.80,894.20 L387.30,894.16 L387.80,894.13 L388.30,894.09 L388.80,894.05 L389.30,894.02 L389.80,893.98 L390.30,893.95 L390.80,893.91 L391.30,893.88 L391.80,893.84 L392.30,893.81 L392.80,893.77 L393.30,893.74 L393.80,893.71 L394.30,893.67 L394.80,893.64 L395.30,893.61 L395.80,893.57 L396.30,893.54 L396.80,893.51 L397.30,893.48 L397.80,893.45 L398.30,893.41 L398.80,893.38 L399.30,893.35 L399.80,893.32 L400.30,893.29 L400.80,893.26 L401.30,893.23 L401.80,893.20 L402.30,893.17 L402.80,893.14 L403.30,893.11 L403.80,893.08 L404.30,893.05 L404.80,893.02 L405.30,892.99 L405.80,892.96 L406.30,892.93 L406.80,892.90 L407.30,892.87 L407.80,892.84 L408.30,892.81 L408.80,892.78 L409.30,892.76 L409.80,892.73 L410.30,892.70 L410.80,892.67 L411.30,892.64 L411.80,892.62 L412.30,892.59 L412.80,892.56 L413.30,892.53 L413.80,892.50 L414.30,892.48 L414.80,892.45 L415.30,892.42 L415.80,892.40 L416.30,892.37 L416.80,892.34 L417.30,892.32 L417.80,892.29 L418.30,892.26 L418.80,892.24 L419.30,892.21 L419.80,892.19 L420.30,892.16 L420.80,892.13 L421.30,892.11 L421.80,892.08 L422.30,892.06 L422.80,892.03 L423.30,892.01 L423.80,891.98 L424.30,891.96 L424.80,891.93 L425.30,891.91 L425.80,891.88 L426.30,891.86 L426.80,891.83 L427.30,891.81 L427.80,891.79 L428.30,891.76 L428.80,891.74 L429.30,891.71 L429.80,891.69 L430.30,891.67 L430.80,891.64 L431.30,891.62 L431.80,891.60 L432.30,891.57 L432.80,891.55 L433.30,891.53 L433.80,891.50 L434.30,891.48 L434.80,891.46 L435.30,891.44 L435.80,891.41 L436.30,891.39 L436.80,891.37 L437.30,891.35 L437.80,891.32 L438.30,891.30 L438.80,891.28 L439.30,891.26 L439.80,891.24 L440.30,891.21 L440.80,891.19 L441.30,891.17 L441.80,891.15 L442.30,891.13 L442.80,891.11" fill="none" stroke="#e8bc1e" stroke-width="2.6" stroke-linejoin="round" stroke-linecap="round"/>
<path d="M297.50,1029.50 L298.50,1031.50 L300.00,1031.50" fill="none" stroke="#e8bc1e" stroke-width="1.8" stroke-linejoin="round" stroke-linecap="round"/>
<path d="M293.50,1028.80 L294.00,1028.80 L294.50,1028.80 L295.00,1028.80 L295.50,1028.80 L296.00,1028.80 L296.50,1028.80 L297.00,1028.80 L297.50,1028.80 L298.00,1028.80 L298.50,1028.80 L299.00,1028.80 L299.50,1028.80 L300.00,1028.80 L300.50,1028.80 L301.00,1028.80 L301.50,1028.80 L302.00,1028.81 L302.50,1028.86 L303.00,1029.06 L303.50,1029.53 L304.00,1030.25 L304.50,1031.11 L305.00,1032.06 L305.50,1033.14 L306.00,1034.39 L306.50,1035.75 L307.00,1037.06 L307.50,1038.17 L308.00,1038.95 L308.50,1039.35 L309.00,1039.48 L309.50,1039.50 L310.00,1039.50" fill="none" stroke="#e8bc1e" stroke-width="2.4" stroke-linejoin="round" stroke-linecap="round"/>
<path d="M308.50,1039.50 L335.00,1039.50" fill="none" stroke="#e8bc1e" stroke-width="2.6" stroke-linejoin="round" stroke-linecap="round"/>
<path d="M335.00,1039.50 L335.50,1039.25 L336.00,1038.99 L336.50,1038.72 L337.00,1038.43 L337.50,1038.11 L338.00,1037.79 L338.50,1037.44 L339.00,1037.07 L339.50,1036.69 L340.00,1036.29 L340.50,1035.88 L341.00,1035.44 L341.50,1035.00 L342.00,1034.54 L342.50,1034.06 L343.00,1033.58 L343.50,1033.08 L344.00,1032.58 L344.50,1032.07 L345.00,1031.55 L345.50,1031.03 L346.00,1030.51 L346.50,1029.98 L347.00,1029.45 L347.50,1028.93 L348.00,1028.41 L348.50,1027.89 L349.00,1027.38 L349.50,1026.87 L350.00,1026.37 L350.50,1025.88 L351.00,1025.40 L351.50,1024.94 L352.00,1024.48 L352.50,1024.03 L353.00,1023.60 L353.50,1023.18 L354.00,1022.77 L354.50,1022.38 L355.00,1022.00 L355.50,1021.64 L356.00,1021.29 L356.50,1020.95 L357.00,1020.63 L357.50,1020.32 L358.00,1020.02 L358.50,1019.74 L359.00,1019.47 L359.50,1019.21 L360.00,1018.97 L360.50,1018.73 L361.00,1018.51 L361.50,1018.29 L362.00,1018.09 L362.50,1017.89 L363.00,1017.71 L363.50,1017.53 L364.00,1017.36 L364.50,1017.20 L365.00,1017.04 L365.50,1016.90 L366.00,1016.75 L366.50,1016.62 L367.00,1016.48 L367.50,1016.36 L368.00,1016.23 L368.50,1016.12 L369.00,1016.00 L369.50,1015.89 L370.00,1015.78 L370.50,1015.68 L371.00,1015.58 L371.50,1015.48 L372.00,1015.38 L372.50,1015.29 L373.00,1015.20 L373.50,1015.11 L374.00,1015.02 L374.50,1014.93 L375.00,1014.85 L375.50,1014.76 L376.00,1014.68 L376.50,1014.60 L377.00,1014.52 L377.50,1014.45 L378.00,1014.37 L378.50,1014.30 L379.00,1014.22 L379.50,1014.15 L380.00,1014.08 L380.50,1014.01 L381.00,1013.94 L381.50,1013.87 L382.00,1013.80 L382.50,1013.74 L383.00,1013.67 L383.50,1013.61 L384.00,1013.54 L384.50,1013.48 L385.00,1013.42 L385.50,1013.36 L386.00,1013.30 L386.50,1013.24 L387.00,1013.18 L387.50,1013.12 L388.00,1013.07 L388.50,1013.01 L389.00,1012.95 L389.50,1012.90 L390.00,1012.85 L390.50,1012.79 L391.00,1012.74 L391.50,1012.69 L392.00,1012.64 L392.50,1012.59 L393.00,1012.54 L393.50,1012.49 L394.00,1012.44 L394.50,1012.39 L395.00,1012.34 L395.50,1012.30 L396.00,1012.25 L396.50,1012.21 L397.00,1012.16 L397.50,1012.12 L398.00,1012.08 L398.50,1012.03 L399.00,1011.99 L399.50,1011.95 L400.00,1011.91 L400.50,1011.87 L401.00,1011.83 L401.50,1011.79 L402.00,1011.75 L402.50,1011.71 L403.00,1011.67 L403.50,1011.64 L404.00,1011.60 L404.50,1011.56 L405.00,1011.53 L405.50,1011.49 L406.00,1011.46 L406.50,1011.42 L407.00,1011.39 L407.50,1011.36 L408.00,1011.32 L408.50,1011.29 L409.00,1011.26 L409.50,1011.23 L410.00,1011.19 L410.50,1011.16 L411.00,1011.13 L411.50,1011.10 L412.00,1011.07 L412.50,1011.04 L413.00,1011.02 L413.50,1010.99 L414.00,1010.96 L414.50,1010.93 L415.00,1010.90 L415.50,1010.88 L416.00,1010.85 L416.50,1010.82 L417.00,1010.80 L417.50,1010.77 L418.00,1010.75 L418.50,1010.72 L419.00,1010.70 L419.50,1010.68 L420.00,1010.65 L420.50,1010.63 L421.00,1010.60 L421.50,1010.58 L422.00,1010.56 L422.50,1010.54 L423.00,1010.52 L423.50,1010.49 L424.00,1010.47 L424.50,1010.45 L425.00,1010.43 L425.50,1010.41 L426.00,1010.39 L426.50,1010.37 L427.00,1010.35 L427.50,1010.33 L428.00,1010.31 L428.50,1010.29 L429.00,1010.27 L429.50,1010.26 L430.00,1010.24 L430.50,1010.22 L431.00,1010.20 L431.50,1010.19 L432.00,1010.17 L432.50,1010.15 L433.00,1010.13 L433.50,1010.12 L434.00,1010.10 L434.50,1010.09 L435.00,1010.07 L435.50,1010.05 L436.00,1010.04 L436.50,1010.02 L437.00,1010.01 L437.50,1009.99 L438.00,1009.98 L438.50,1009.97 L439.00,1009.95 L439.50,1009.94 L440.00,1009.92 L440.50,1009.91 L441.00,1009.90 L441.50,1009.88 L442.00,1009.87 L442.50,1009.86 L443.00,1009.84" fill="none" stroke="#e8bc1e" stroke-width="2.6" stroke-linejoin="round" stroke-linecap="round"/>
<rect x="296.60" y="1131.30" width="1.80" height="1.20" fill="#e8bc1e"/>
<rect x="296.60" y="1133.60" width="1.80" height="1.20" fill="#e8bc1e"/>
<path d="M292.90,1128.88 L293.40,1128.83 L293.90,1128.77 L294.40,1128.69 L294.90,1128.62 L295.40,1128.54 L295.90,1128.47 L296.40,1128.40 L296.90,1128.33 L297.40,1128.27 L297.90,1128.21 L298.40,1128.16 L298.90,1128.11 L299.40,1128.07 L299.90,1128.04 L300.40,1128.01 L300.90,1128.01 L301.40,1128.02 L301.90,1128.07 L302.40,1128.15 L302.90,1128.27 L303.40,1128.43 L303.90,1128.64 L304.40,1128.88 L304.90,1129.16 L305.40,1129.46 L305.90,1129.78 L306.40,1130.12 L306.90,1130.48 L307.40,1130.84 L307.90,1131.22 L308.40,1131.61 L308.90,1132.01 L309.40,1132.41 L309.90,1132.82 L310.40,1133.22 L310.90,1133.61 L311.40,1133.98 L311.90,1134.33 L312.40,1134.66 L312.90,1134.96 L313.40,1135.23 L313.90,1135.48 L314.40,1135.71 L314.90,1135.92 L315.40,1136.11 L315.90,1136.30 L316.40,1136.47 L316.90,1136.63 L317.40,1136.79 L317.90,1136.94 L318.40,1137.08 L318.90,1137.21 L319.40,1137.34 L319.90,1137.46 L320.40,1137.57 L320.90,1137.68 L321.40,1137.79 L321.90,1137.90 L322.40,1138.00 L322.90,1138.10 L323.40,1138.20 L323.90,1138.29 L324.40,1138.38 L324.90,1138.47 L325.40,1138.55 L325.90,1138.63 L326.40,1138.71 L326.90,1138.78 L327.40,1138.85 L327.90,1138.92 L328.40,1138.98 L328.90,1139.04 L329.40,1139.09 L329.90,1139.14 L330.40,1139.19 L330.90,1139.24 L331.40,1139.28 L331.90,1139.32 L332.40,1139.36 L332.90,1139.40 L333.40,1139.44 L333.90,1139.48 L334.40,1139.52 L334.90,1139.56 L335.40,1139.60 L335.90,1139.63 L336.40,1139.66 L336.90,1139.70 L337.40,1139.73 L337.90,1139.76 L338.40,1139.79 L338.90,1139.82 L339.40,1139.84 L339.90,1139.86 L340.40,1139.89 L340.90,1139.91 L341.40,1139.93 L341.90,1139.94 L342.40,1139.95 L342.90,1139.97 L343.40,1139.98 L343.90,1139.98 L344.40,1139.99 L344.90,1139.99 L345.40,1139.99 L345.90,1139.99 L346.40,1139.99 L346.90,1139.98 L347.40,1139.98 L347.90,1139.97 L348.40,1139.96 L348.90,1139.95 L349.40,1139.94 L349.90,1139.93 L350.40,1139.92 L350.90,1139.91 L351.40,1139.89 L351.90,1139.87 L352.40,1139.86 L352.90,1139.84 L353.40,1139.82 L353.90,1139.80 L354.40,1139.78 L354.90,1139.75 L355.40,1139.73 L355.90,1139.71 L356.40,1139.68 L356.90,1139.66 L357.40,1139.63 L357.90,1139.60 L358.40,1139.57 L358.90,1139.54 L359.40,1139.51 L359.90,1139.48 L360.40,1139.45 L360.90,1139.42 L361.40,1139.39 L361.90,1139.35 L362.40,1139.32 L362.90,1139.29 L363.40,1139.25 L363.90,1139.21 L364.40,1139.18 L364.90,1139.14 L365.40,1139.10 L365.90,1139.07 L366.40,1139.03 L366.90,1138.99 L367.40,1138.95 L367.90,1138.91 L368.40,1138.87 L368.90,1138.83 L369.40,1138.79 L369.90,1138.75 L370.40,1138.71 L370.90,1138.67 L371.40,1138.63 L371.90,1138.59 L372.40,1138.54 L372.90,1138.50 L373.40,1138.46 L373.90,1138.42 L374.40,1138.38 L374.90,1138.33 L375.40,1138.29 L375.90,1138.25 L376.40,1138.21 L376.90,1138.16 L377.40,1138.12 L377.90,1138.08 L378.40,1138.04 L378.90,1138.00 L379.40,1137.95 L379.90,1137.91 L380.40,1137.87 L380.90,1137.83 L381.40,1137.79 L381.90,1137.75 L382.40,1137.71 L382.90,1137.67 L383.40,1137.63 L383.90,1137.59 L384.40,1137.55 L384.90,1137.51 L385.40,1137.47 L385.90,1137.43 L386.40,1137.38 L386.90,1137.34 L387.40,1137.30 L387.90,1137.26 L388.40,1137.21 L388.90,1137.17 L389.40,1137.12 L389.90,1137.07 L390.40,1137.03 L390.90,1136.98 L391.40,1136.93 L391.90,1136.88 L392.40,1136.83 L392.90,1136.78 L393.40,1136.73 L393.90,1136.68 L394.40,1136.63 L394.90,1136.58 L395.40,1136.53 L395.90,1136.48 L396.40,1136.43 L396.90,1136.38 L397.40,1136.33 L397.90,1136.28 L398.40,1136.23 L398.90,1136.18 L399.40,1136.13 L399.90,1136.08 L400.40,1136.03 L400.90,1135.98 L401.40,1135.93 L401.90,1135.89 L402.40,1135.84 L402.90,1135.79 L403.40,1135.75 L403.90,1135.70 L404.40,1135.66 L404.90,1135.61 L405.40,1135.57 L405.90,1135.52 L406.40,1135.48 L406.90,1135.44 L407.40,1135.40 L407.90,1135.35 L408.40,1135.31 L408.90,1135.27 L409.40,1135.23 L409.90,1135.19 L410.40,1135.14 L410.90,1135.10 L411.40,1135.06 L411.90,1135.02 L412.40,1134.98 L412.90,1134.94 L413.40,1134.90 L413.90,1134.86 L414.40,1134.82 L414.90,1134.78 L415.40,1134.74 L415.90,1134.70 L416.40,1134.66 L416.90,1134.62 L417.40,1134.58 L417.90,1134.55 L418.40,1134.51 L418.90,1134.47 L419.40,1134.43 L419.90,1134.39 L420.40,1134.35 L420.90,1134.31 L421.40,1134.27 L421.90,1134.24 L422.40,1134.20 L422.90,1134.16 L423.40,1134.12 L423.90,1134.08 L424.40,1134.05 L424.90,1134.01 L425.40,1133.97 L425.90,1133.93 L426.40,1133.89 L426.90,1133.86 L427.40,1133.82 L427.90,1133.78 L428.40,1133.74 L428.90,1133.71 L429.40,1133.67 L429.90,1133.63 L430.40,1133.60 L430.90,1133.56 L431.40,1133.52 L431.90,1133.49 L432.40,1133.45 L432.90,1133.41 L433.40,1133.38 L433.90,1133.34 L434.40,1133.31 L434.90,1133.27 L435.40,1133.23 L435.90,1133.20 L436.40,1133.16 L436.90,1133.13 L437.40,1133.09 L437.90,1133.06 L438.40,1133.02 L438.90,1132.99 L439.40,1132.95 L439.90,1132.92 L440.40,1132.88 L440.90,1132.85 L441.40,1132.82 L441.90,1132.79 L442.40,1132.77 L442.90,1132.74 L443.00,1132.73" fill="none" stroke="#e8bc1e" stroke-width="2.4" stroke-linejoin="round" stroke-linecap="round"/>
</svg></body></html>
